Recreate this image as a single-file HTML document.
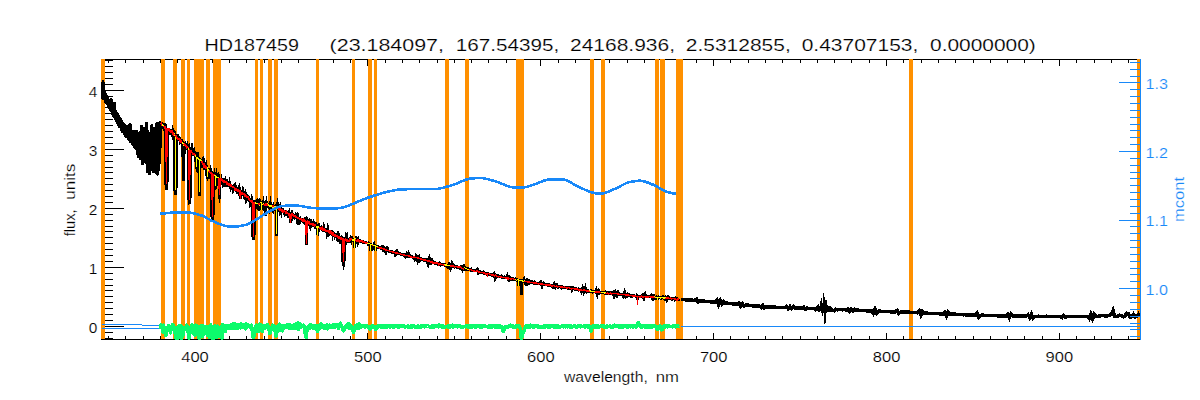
<!DOCTYPE html>
<html><head><meta charset="utf-8"><title>HD187459</title>
<style>html,body{margin:0;padding:0;background:#fff;}svg{display:block;}text{font-family:"Liberation Sans",sans-serif;}</style>
</head><body>
<svg width="1200" height="400" viewBox="0 0 1200 400">
<rect width="1200" height="400" fill="#fff"/>
<defs><clipPath id="pc"><rect x="101" y="59" width="1040" height="281"/></clipPath></defs>
<g shape-rendering="crispEdges">
<g fill="#000">
<rect x="101" y="59" width="1039" height="1"/>
<rect x="102" y="339" width="1038" height="1"/>
<rect x="101" y="59" width="1" height="281"/>
<rect x="108" y="59" width="1" height="4"/>
<rect x="108" y="336" width="1" height="4"/>
<rect x="125" y="59" width="1" height="4"/>
<rect x="125" y="336" width="1" height="4"/>
<rect x="143" y="59" width="1" height="4"/>
<rect x="143" y="336" width="1" height="4"/>
<rect x="160" y="59" width="1" height="4"/>
<rect x="160" y="336" width="1" height="4"/>
<rect x="177" y="59" width="1" height="4"/>
<rect x="177" y="336" width="1" height="4"/>
<rect x="195" y="59" width="1" height="7"/>
<rect x="195" y="333" width="1" height="7"/>
<rect x="212" y="59" width="1" height="4"/>
<rect x="212" y="336" width="1" height="4"/>
<rect x="229" y="59" width="1" height="4"/>
<rect x="229" y="336" width="1" height="4"/>
<rect x="246" y="59" width="1" height="4"/>
<rect x="246" y="336" width="1" height="4"/>
<rect x="264" y="59" width="1" height="4"/>
<rect x="264" y="336" width="1" height="4"/>
<rect x="281" y="59" width="1" height="4"/>
<rect x="281" y="336" width="1" height="4"/>
<rect x="298" y="59" width="1" height="4"/>
<rect x="298" y="336" width="1" height="4"/>
<rect x="316" y="59" width="1" height="4"/>
<rect x="316" y="336" width="1" height="4"/>
<rect x="333" y="59" width="1" height="4"/>
<rect x="333" y="336" width="1" height="4"/>
<rect x="350" y="59" width="1" height="4"/>
<rect x="350" y="336" width="1" height="4"/>
<rect x="367" y="59" width="1" height="7"/>
<rect x="367" y="333" width="1" height="7"/>
<rect x="385" y="59" width="1" height="4"/>
<rect x="385" y="336" width="1" height="4"/>
<rect x="402" y="59" width="1" height="4"/>
<rect x="402" y="336" width="1" height="4"/>
<rect x="419" y="59" width="1" height="4"/>
<rect x="419" y="336" width="1" height="4"/>
<rect x="437" y="59" width="1" height="4"/>
<rect x="437" y="336" width="1" height="4"/>
<rect x="454" y="59" width="1" height="4"/>
<rect x="454" y="336" width="1" height="4"/>
<rect x="471" y="59" width="1" height="4"/>
<rect x="471" y="336" width="1" height="4"/>
<rect x="488" y="59" width="1" height="4"/>
<rect x="488" y="336" width="1" height="4"/>
<rect x="506" y="59" width="1" height="4"/>
<rect x="506" y="336" width="1" height="4"/>
<rect x="523" y="59" width="1" height="4"/>
<rect x="523" y="336" width="1" height="4"/>
<rect x="540" y="59" width="1" height="7"/>
<rect x="540" y="333" width="1" height="7"/>
<rect x="558" y="59" width="1" height="4"/>
<rect x="558" y="336" width="1" height="4"/>
<rect x="575" y="59" width="1" height="4"/>
<rect x="575" y="336" width="1" height="4"/>
<rect x="592" y="59" width="1" height="4"/>
<rect x="592" y="336" width="1" height="4"/>
<rect x="609" y="59" width="1" height="4"/>
<rect x="609" y="336" width="1" height="4"/>
<rect x="627" y="59" width="1" height="4"/>
<rect x="627" y="336" width="1" height="4"/>
<rect x="644" y="59" width="1" height="4"/>
<rect x="644" y="336" width="1" height="4"/>
<rect x="661" y="59" width="1" height="4"/>
<rect x="661" y="336" width="1" height="4"/>
<rect x="679" y="59" width="1" height="4"/>
<rect x="679" y="336" width="1" height="4"/>
<rect x="696" y="59" width="1" height="4"/>
<rect x="696" y="336" width="1" height="4"/>
<rect x="713" y="59" width="1" height="7"/>
<rect x="713" y="333" width="1" height="7"/>
<rect x="730" y="59" width="1" height="4"/>
<rect x="730" y="336" width="1" height="4"/>
<rect x="748" y="59" width="1" height="4"/>
<rect x="748" y="336" width="1" height="4"/>
<rect x="765" y="59" width="1" height="4"/>
<rect x="765" y="336" width="1" height="4"/>
<rect x="782" y="59" width="1" height="4"/>
<rect x="782" y="336" width="1" height="4"/>
<rect x="800" y="59" width="1" height="4"/>
<rect x="800" y="336" width="1" height="4"/>
<rect x="817" y="59" width="1" height="4"/>
<rect x="817" y="336" width="1" height="4"/>
<rect x="834" y="59" width="1" height="4"/>
<rect x="834" y="336" width="1" height="4"/>
<rect x="851" y="59" width="1" height="4"/>
<rect x="851" y="336" width="1" height="4"/>
<rect x="869" y="59" width="1" height="4"/>
<rect x="869" y="336" width="1" height="4"/>
<rect x="886" y="59" width="1" height="7"/>
<rect x="886" y="333" width="1" height="7"/>
<rect x="903" y="59" width="1" height="4"/>
<rect x="903" y="336" width="1" height="4"/>
<rect x="921" y="59" width="1" height="4"/>
<rect x="921" y="336" width="1" height="4"/>
<rect x="938" y="59" width="1" height="4"/>
<rect x="938" y="336" width="1" height="4"/>
<rect x="955" y="59" width="1" height="4"/>
<rect x="955" y="336" width="1" height="4"/>
<rect x="973" y="59" width="1" height="4"/>
<rect x="973" y="336" width="1" height="4"/>
<rect x="990" y="59" width="1" height="4"/>
<rect x="990" y="336" width="1" height="4"/>
<rect x="1007" y="59" width="1" height="4"/>
<rect x="1007" y="336" width="1" height="4"/>
<rect x="1024" y="59" width="1" height="4"/>
<rect x="1024" y="336" width="1" height="4"/>
<rect x="1042" y="59" width="1" height="4"/>
<rect x="1042" y="336" width="1" height="4"/>
<rect x="1059" y="59" width="1" height="7"/>
<rect x="1059" y="333" width="1" height="7"/>
<rect x="1076" y="59" width="1" height="4"/>
<rect x="1076" y="336" width="1" height="4"/>
<rect x="1094" y="59" width="1" height="4"/>
<rect x="1094" y="336" width="1" height="4"/>
<rect x="1111" y="59" width="1" height="4"/>
<rect x="1111" y="336" width="1" height="4"/>
<rect x="1128" y="59" width="1" height="4"/>
<rect x="1128" y="336" width="1" height="4"/>
<rect x="101" y="338" width="12" height="1"/>
<rect x="101" y="332" width="12" height="1"/>
<rect x="101" y="326" width="23" height="1"/>
<rect x="101" y="320" width="12" height="1"/>
<rect x="101" y="314" width="12" height="1"/>
<rect x="101" y="308" width="12" height="1"/>
<rect x="101" y="302" width="12" height="1"/>
<rect x="101" y="296" width="12" height="1"/>
<rect x="101" y="290" width="12" height="1"/>
<rect x="101" y="285" width="12" height="1"/>
<rect x="101" y="279" width="12" height="1"/>
<rect x="101" y="273" width="12" height="1"/>
<rect x="101" y="267" width="23" height="1"/>
<rect x="101" y="261" width="12" height="1"/>
<rect x="101" y="255" width="12" height="1"/>
<rect x="101" y="249" width="12" height="1"/>
<rect x="101" y="243" width="12" height="1"/>
<rect x="101" y="237" width="12" height="1"/>
<rect x="101" y="231" width="12" height="1"/>
<rect x="101" y="226" width="12" height="1"/>
<rect x="101" y="220" width="12" height="1"/>
<rect x="101" y="214" width="12" height="1"/>
<rect x="101" y="208" width="23" height="1"/>
<rect x="101" y="202" width="12" height="1"/>
<rect x="101" y="196" width="12" height="1"/>
<rect x="101" y="190" width="12" height="1"/>
<rect x="101" y="184" width="12" height="1"/>
<rect x="101" y="178" width="12" height="1"/>
<rect x="101" y="172" width="12" height="1"/>
<rect x="101" y="167" width="12" height="1"/>
<rect x="101" y="161" width="12" height="1"/>
<rect x="101" y="155" width="12" height="1"/>
<rect x="101" y="149" width="23" height="1"/>
<rect x="101" y="143" width="12" height="1"/>
<rect x="101" y="137" width="12" height="1"/>
<rect x="101" y="131" width="12" height="1"/>
<rect x="101" y="125" width="12" height="1"/>
<rect x="101" y="119" width="12" height="1"/>
<rect x="101" y="113" width="12" height="1"/>
<rect x="101" y="107" width="12" height="1"/>
<rect x="101" y="102" width="12" height="1"/>
<rect x="101" y="96" width="12" height="1"/>
<rect x="101" y="90" width="23" height="1"/>
<rect x="101" y="84" width="12" height="1"/>
<rect x="101" y="78" width="12" height="1"/>
<rect x="101" y="72" width="12" height="1"/>
<rect x="101" y="66" width="12" height="1"/>
<rect x="101" y="60" width="12" height="1"/>
</g>
<g fill="#ff9000">
<rect x="101" y="59" width="4" height="280"/>
<rect x="161" y="59" width="4" height="280"/>
<rect x="173" y="59" width="4" height="280"/>
<rect x="181" y="59" width="4" height="280"/>
<rect x="187" y="59" width="3" height="280"/>
<rect x="194" y="59" width="10" height="280"/>
<rect x="206" y="59" width="4" height="280"/>
<rect x="213" y="59" width="8" height="280"/>
<rect x="255" y="59" width="3" height="280"/>
<rect x="260" y="59" width="3" height="280"/>
<rect x="268" y="59" width="4" height="280"/>
<rect x="274" y="59" width="4" height="280"/>
<rect x="316" y="59" width="3" height="280"/>
<rect x="352" y="59" width="3" height="280"/>
<rect x="368" y="59" width="4" height="280"/>
<rect x="374" y="59" width="3" height="280"/>
<rect x="445" y="59" width="4" height="280"/>
<rect x="465" y="59" width="4" height="280"/>
<rect x="516" y="59" width="8" height="280"/>
<rect x="590" y="59" width="4" height="280"/>
<rect x="601" y="59" width="4" height="280"/>
<rect x="655" y="59" width="4" height="280"/>
<rect x="660" y="59" width="5" height="280"/>
<rect x="676" y="59" width="7" height="280"/>
<rect x="909" y="59" width="4" height="280"/>
<rect x="1137" y="59" width="3" height="280"/>
</g>
<g fill="#1888f8">
<rect x="102" y="324" width="40" height="1"/>
<rect x="142" y="325" width="19" height="1"/>
<rect x="102" y="328" width="59" height="1"/>
</g>
<g clip-path="url(#pc)">
<path d="M101.00,90.68L101.50,96.21L102.00,87.81L102.50,98.01L103.00,81.71L103.50,97.86L104.00,89.94L104.50,98.82L105.00,92.70L105.50,101.66L106.00,95.71L106.50,103.18L107.00,96.59L107.50,103.42L108.00,98.87L108.50,106.79L109.00,99.95L109.50,107.72L110.00,101.48L110.50,109.38L111.00,99.19L111.50,111.11L112.00,105.77L112.50,113.73L113.00,107.65L113.50,116.25L114.00,109.56L114.50,103.20L115.00,111.54L115.50,119.29L116.00,111.40L116.50,121.01L117.00,113.00L117.50,123.07L118.00,114.50L118.50,124.87L119.00,116.52L119.50,126.63L120.00,118.09L120.50,126.93L121.00,119.59L121.50,129.92L122.00,121.32L122.50,131.94L123.00,122.88L123.50,132.17L124.00,124.14L124.50,133.78L125.00,126.29L125.50,136.27L126.00,126.45L126.50,135.47L127.00,126.34L127.50,136.74L128.00,128.66L128.50,138.97L129.00,130.32L129.50,139.35L130.00,123.92L130.50,141.66L131.00,131.58L131.50,142.28L132.00,132.09L132.50,143.51L133.00,131.70L133.50,144.70L134.00,132.13L134.50,146.35L135.00,131.12L135.50,147.47L136.00,131.36L136.50,148.97L137.00,131.48L137.50,153.49L138.00,135.37L138.50,156.47L139.00,135.27L139.50,153.14L140.00,132.20L140.50,158.82L141.00,131.79L141.50,126.47L142.00,135.34L142.50,163.83L143.00,137.01L143.50,128.56L144.00,133.10L144.50,128.02L145.00,134.23L145.50,162.17L146.00,137.74L146.50,123.17L147.00,128.09L147.50,171.71L148.00,131.69L148.50,167.82L149.00,133.62L149.50,173.99L150.00,136.46L150.50,170.02L151.00,134.63L151.50,168.39L152.00,125.47L152.50,168.61L153.00,128.08L153.50,171.83L154.00,128.37L154.50,171.66L155.00,131.61L155.50,170.62L156.00,134.30L156.50,172.42L157.00,123.07L157.50,174.07L158.00,133.45L158.50,170.28L159.00,130.68L159.50,162.75L160.00,121.86L160.50,147.01L161.00,124.99L161.25,124.81L161.50,123.15" fill="none" stroke="#000" stroke-width="3" stroke-linejoin="round"/>
<path d="M161.00,124.99L161.25,124.81L161.50,123.15L161.75,123.23L162.00,124.88L162.25,126.16L162.50,126.51L162.75,123.91L163.00,126.09L163.25,125.82L163.50,124.24L163.75,126.63L164.00,123.06L164.25,126.67L164.50,129.85L164.75,125.33L165.00,126.93L165.25,124.54L165.50,126.28L165.70,126.73L165.85,183.48L166.50,189.64L167.15,180.41L167.30,130.35L167.50,130.59L167.75,130.27L168.00,128.59L168.25,131.47L168.50,131.46L168.75,127.88L169.00,131.10L169.25,131.53L169.50,131.94L169.75,131.59L170.00,129.32L170.25,130.92L170.50,128.71L170.75,131.51L171.00,134.69L171.25,133.09L171.50,133.52L171.75,131.92L172.00,131.47L172.25,131.62L172.50,133.46L172.75,132.43L173.00,132.88L173.25,135.52L173.50,131.98L173.75,132.66L174.00,133.97L174.25,134.75L174.50,134.95L174.70,134.65L174.85,189.21L175.50,195.12L176.15,186.26L176.30,136.29L176.50,136.10L176.75,136.93L177.00,136.71L177.25,139.53L177.50,133.72L177.75,136.21L178.00,136.10L178.25,138.13L178.50,137.97L178.75,138.56L179.00,140.33L179.25,137.39L179.50,138.69L179.75,139.77L180.00,138.69L180.25,141.05L180.50,141.24L180.75,140.08L181.00,138.88L181.25,143.68L181.50,142.39L181.75,142.57L182.00,142.33L182.25,142.47L182.50,143.84L182.75,142.94L182.95,142.82L183.10,177.11L183.50,180.82L183.90,175.25L184.05,145.36L184.25,145.97L184.50,145.49L184.75,147.54L185.00,144.41L185.25,144.35L185.50,146.14L185.75,147.70L186.00,146.88L186.25,146.90L186.50,149.10L186.75,145.78L187.00,145.34L187.25,146.26L187.50,147.07L187.75,148.24L188.00,149.36L188.25,148.76L188.50,150.51L188.70,149.93L188.85,198.86L189.50,204.35L190.15,196.11L190.30,150.96L190.50,151.13L190.75,151.70L191.00,150.65L191.25,151.10L191.50,151.77L191.75,149.94L192.00,150.97L192.25,150.02L192.50,152.48L192.75,155.73L193.00,154.00L193.25,152.09L193.50,152.56L193.75,155.10L194.00,153.40L194.25,152.13L194.50,153.19L194.75,153.41L195.00,153.72L195.25,156.28L195.50,155.73L195.75,153.89L195.95,154.20L196.10,166.51L196.50,167.60L196.90,165.96L197.05,157.60L197.25,157.10L197.50,158.56L197.75,159.23L198.00,157.81L198.25,159.32L198.50,159.61L198.75,159.45L198.95,160.03L199.10,192.03L199.50,195.59L199.90,190.25L200.05,162.32L200.25,162.16L200.50,160.45L200.75,160.22L201.00,160.41L201.25,161.06L201.50,162.76L201.75,163.66L202.00,159.74L202.25,163.07L202.50,161.89L202.75,164.60L203.00,165.20L203.25,163.21L203.50,163.95L203.75,163.56L204.00,165.67L204.25,163.27L204.50,164.22L204.75,165.11L205.00,167.98L205.25,169.87L205.50,166.95L205.75,165.56L206.00,167.62L206.25,166.64L206.50,168.73L206.75,166.90L206.95,167.16L207.10,176.85L207.50,177.69L207.90,176.43L208.05,170.56L208.25,170.31L208.50,167.97L208.75,171.95L209.00,170.58L209.25,170.34L209.50,173.55L209.75,170.44L210.00,172.13L210.25,171.33L210.50,174.37L210.75,172.29L211.00,173.34L211.25,171.38L211.50,175.42L211.70,174.79L211.85,216.08L212.50,220.72L213.15,213.76L213.30,175.34L213.50,175.31L213.75,175.88L214.00,176.97L214.25,175.81L214.50,174.73L214.75,175.87L214.95,176.35L215.10,185.15L215.50,186.11L215.90,184.67L216.05,175.44L216.25,174.72L216.50,176.64L216.75,177.08L217.00,177.55L217.25,180.72L217.50,179.78L217.75,176.43L218.00,180.88L218.25,176.49L218.50,175.72L218.75,176.36L218.95,176.85L219.10,194.44L219.50,196.18L219.90,193.57L220.05,179.89L220.25,180.18L220.50,178.85L220.75,180.73L221.00,180.43L221.25,178.23L221.50,181.91L221.75,180.39L222.00,181.24L222.25,182.11L222.50,179.24L222.75,180.60L223.00,179.76L223.25,179.75L223.50,181.54L223.75,181.79L224.00,183.29L224.25,183.52L224.50,181.78L224.75,180.84L225.00,186.45L225.25,185.19L225.50,182.31L225.75,181.36L226.00,182.21L226.25,183.32L226.50,184.63L226.75,184.58L227.00,184.02L227.25,183.26L227.50,183.98L227.75,183.50L228.00,184.18L228.25,184.11L228.50,185.12L228.75,182.03L229.00,184.27L229.25,184.51L229.50,183.53L229.75,184.99L230.00,184.49L230.25,184.98L230.50,185.46L230.75,185.65L231.00,185.54L231.25,187.12L231.50,186.52L231.75,186.78L232.00,186.86L232.25,186.25L232.50,186.23L232.75,187.85L233.00,186.99L233.25,185.94L233.50,185.73L233.75,187.95L234.00,187.29L234.25,188.01L234.50,187.76L234.75,188.03L235.00,188.38L235.25,187.62L235.50,188.82L235.75,189.82L236.00,189.73L236.25,187.81L236.50,188.30L236.75,188.46L237.00,189.54L237.25,190.63L237.50,190.33L237.75,188.72L238.00,190.41L238.25,191.20L238.50,190.29L238.75,192.45L239.00,190.43L239.25,192.14L239.50,193.30L239.75,190.38L240.00,191.35L240.38,192.01L240.50,199.14L240.62,191.20L241.00,192.77L241.25,192.70L241.50,192.27L241.75,192.09L242.00,192.53L242.25,192.90L242.50,192.26L242.75,194.87L243.00,192.78L243.25,193.55L243.50,193.54L243.75,193.95L244.00,194.58L244.25,194.07L244.50,194.72L244.75,196.60L245.00,196.24L245.25,195.32L245.50,196.56L245.75,195.36L246.00,196.43L246.25,195.25L246.50,195.72L246.75,196.19L247.00,198.22L247.25,197.60L247.50,198.11L247.75,198.01L248.00,198.43L248.25,198.72L248.50,199.25L248.75,198.97L249.00,198.29L249.25,198.63L249.50,200.57L249.75,200.97L250.00,200.46L250.25,198.81L250.50,201.76L250.75,200.91L251.00,200.78L251.25,201.06L251.50,200.91L251.75,202.91L252.00,203.02L252.25,200.86L252.50,201.76L252.70,201.88L252.85,235.90L253.50,239.61L254.15,234.04L254.30,203.73L254.50,203.97L254.75,203.31L255.00,201.93L255.25,202.14L255.50,202.32L255.75,202.04L256.00,203.29L256.25,202.89L256.50,203.40L256.75,204.00L257.00,204.94L257.25,203.62L257.50,201.86L257.75,204.64L258.00,203.37L258.25,204.46L258.50,203.09L258.75,203.73L259.00,203.36L259.25,203.45L259.50,204.56L259.75,202.92L260.00,203.62L260.25,203.67L260.50,203.15L260.75,201.61L261.00,203.79L261.38,201.85L261.50,210.11L261.62,203.36L262.00,203.92L262.25,204.31L262.50,204.31L262.75,204.14L263.00,203.36L263.25,204.74L263.50,203.51L263.75,204.73L264.00,201.92L264.25,203.06L264.50,203.43L264.75,203.97L265.00,201.99L265.38,204.00L265.50,215.93L265.62,204.58L266.00,203.83L266.25,205.58L266.50,203.94L266.75,205.25L267.00,204.50L267.25,204.61L267.50,204.57L267.75,204.76L268.00,205.81L268.25,206.17L268.50,206.24L268.75,205.88L269.00,205.76L269.25,205.67L269.50,206.87L269.75,205.08L270.00,205.01L270.25,205.68L270.50,204.31L270.75,205.62L271.00,205.86L271.25,205.13L271.50,205.61L271.75,206.78L272.00,206.09L272.25,206.45L272.50,207.36L272.75,206.06L273.00,205.70L273.25,206.74L273.50,207.24L273.75,205.43L274.00,207.64L274.25,206.91L274.50,206.93L274.75,206.65L275.00,207.33L275.25,208.41L275.50,208.15L275.75,208.50L276.00,207.60L276.38,208.88L276.50,235.98L276.62,207.63L277.00,206.11L277.25,208.50L277.50,210.90L277.75,208.62L278.00,207.91L278.25,210.34L278.50,208.47L278.75,209.52L279.00,209.86L279.25,208.07L279.50,209.54L279.75,210.56L280.00,209.37L280.25,210.32L280.50,209.86L280.75,210.86L281.00,211.67L281.25,209.27L281.50,210.08L281.75,210.77L282.00,210.01L282.25,209.95L282.50,210.47L282.75,210.65L283.00,210.44L283.25,211.39L283.50,211.91L283.75,211.97L284.00,212.03L284.25,212.57L284.50,210.51L284.75,211.69L285.00,212.06L285.25,212.46L285.50,210.76L285.75,213.84L286.00,211.60L286.25,212.70L286.50,213.21L286.75,213.63L287.00,212.23L287.25,212.47L287.50,213.36L287.75,213.66L288.00,214.05L288.25,213.34L288.50,212.92L288.75,212.49L289.00,215.22L289.25,212.68L289.50,214.56L289.75,214.32L290.00,214.85L290.38,215.05L290.50,222.82L290.62,214.64L291.00,215.00L291.25,213.12L291.50,214.93L291.75,214.24L292.00,215.00L292.25,216.29L292.50,215.45L292.75,216.40L293.00,215.42L293.25,216.05L293.50,215.47L293.75,213.77L294.00,215.45L294.25,215.94L294.50,216.42L294.75,216.40L295.00,216.41L295.25,217.44L295.50,217.28L295.75,216.53L296.00,217.72L296.25,215.41L296.50,216.97L296.75,217.20L297.00,218.55L297.25,217.10L297.50,216.42L297.75,217.94L298.00,219.34L298.25,217.84L298.50,218.05L298.75,218.07L299.00,218.41L299.25,219.59L299.50,220.26L299.75,219.11L300.00,218.77L300.25,219.86L300.50,219.09L300.75,219.19L301.00,219.09L301.25,219.23L301.50,219.62L301.75,219.47L302.00,219.93L302.25,219.88L302.50,220.23L302.75,219.87L303.00,220.08L303.25,220.41L303.50,220.43L303.75,220.56L304.00,221.21L304.25,220.20L304.50,219.88L304.75,221.32L305.00,220.95L305.25,221.85L305.50,221.25L305.75,220.81L306.00,222.60L306.38,222.04L306.50,245.24L306.62,221.68L307.00,222.23L307.25,221.72L307.50,222.37L307.75,222.86L308.00,221.70L308.25,222.33L308.50,222.86L308.75,223.56L309.00,223.31L309.25,222.73L309.50,223.80L309.75,223.00L310.00,223.21L310.25,223.60L310.50,222.98L310.75,225.17L311.00,224.35L311.25,223.97L311.50,223.69L311.75,223.51L312.00,224.39L312.25,224.67L312.50,224.24L312.75,224.46L313.00,224.95L313.25,224.75L313.50,223.97L313.75,225.35L314.00,225.25L314.25,225.61L314.50,224.98L314.75,224.41L315.00,224.97L315.25,225.85L315.50,226.86L315.75,227.11L316.00,226.20L316.25,225.44L316.50,226.12L316.75,226.62L317.00,226.73L317.38,226.69L317.50,235.27L317.62,226.27L318.00,225.89L318.25,226.65L318.50,226.63L318.75,228.44L319.00,227.34L319.25,226.84L319.50,227.98L319.75,228.29L320.00,227.92L320.25,228.11L320.50,228.64L320.75,228.50L321.00,228.01L321.25,228.76L321.50,229.05L321.75,228.87L322.00,229.25L322.25,229.22L322.50,228.92L322.75,229.08L323.00,229.57L323.25,229.10L323.50,230.07L323.75,230.21L324.00,228.70L324.25,229.79L324.50,229.56L324.75,229.73L325.00,230.24L325.25,230.19L325.50,230.67L325.75,230.66L326.00,230.80L326.25,230.33L326.50,230.66L326.75,231.68L327.00,229.82L327.25,232.03L327.50,231.00L327.75,231.99L328.00,230.21L328.25,231.41L328.50,232.16L328.75,231.93L329.00,232.48L329.25,231.65L329.50,231.92L329.75,231.99L330.00,232.69L330.25,232.79L330.50,232.61L330.75,232.66L331.00,232.77L331.25,233.09L331.50,232.69L331.75,233.27L332.00,233.35L332.25,233.28L332.50,233.40L332.75,234.56L333.00,233.65L333.25,234.30L333.50,234.91L333.75,234.74L334.00,234.52L334.25,235.16L334.50,234.09L334.75,234.34L335.00,234.90L335.25,235.14L335.50,235.36L335.75,236.50L336.00,236.56L336.25,235.86L336.50,236.16L336.75,235.74L337.00,236.51L337.25,235.84L337.50,237.37L337.75,236.58L338.00,237.27L338.25,236.50L338.50,238.01L338.75,237.77L339.00,238.60L339.25,237.81L339.50,237.11L339.75,237.68L340.00,237.59L340.25,239.14L340.50,238.18L340.75,238.25L341.00,239.05L341.25,239.01L341.50,239.24L341.75,238.85L342.00,238.21L342.25,238.63L342.50,238.31L342.70,238.67L342.85,261.43L343.50,263.84L344.15,260.22L344.30,240.35L344.50,240.39L344.75,240.04L345.00,238.92L345.25,238.68L345.50,240.72L345.75,240.41L346.00,238.87L346.25,240.22L346.50,239.70L346.75,239.87L347.00,238.85L347.25,240.53L347.50,240.10L347.75,240.54L348.00,240.67L348.25,240.76L348.50,240.93L348.75,240.24L349.00,240.19L349.25,239.75L349.50,240.32L349.75,239.92L350.00,239.44L350.25,240.62L350.50,240.37L350.75,238.66L351.00,239.06L351.25,239.88L351.50,239.32L351.75,240.61L352.00,240.09L352.25,240.28L352.50,240.48L352.75,240.69L353.00,239.89L353.25,240.35L353.50,240.18L353.75,240.48L354.00,240.38L354.38,240.71L354.50,248.45L354.62,240.03L355.00,240.26L355.25,239.67L355.50,240.43L355.75,241.07L356.00,240.04L356.25,239.55L356.50,240.39L356.75,240.22L357.00,240.52L357.25,240.27L357.50,240.65L357.75,240.15L358.00,241.49L358.25,240.65L358.50,241.08L358.75,241.26L359.00,240.85L359.25,241.21L359.50,240.92L359.75,240.88L360.00,241.13L360.25,241.27L360.50,241.12L360.75,241.23L361.00,241.31L361.25,241.40L361.50,241.67L361.75,241.59L362.00,241.62L362.25,241.74L362.50,241.92L362.75,241.77L363.00,242.05L363.25,241.72L363.50,241.96L363.75,242.32L364.00,242.40L364.25,242.31L364.50,242.31L364.75,242.53L365.00,242.46L365.25,242.77L365.50,242.80L365.75,242.83L366.00,242.71L366.25,243.01L366.50,242.94L366.75,243.02L367.00,243.08L367.25,243.19L367.50,243.35L367.75,243.47L368.00,243.56L368.25,243.95L368.50,243.58L368.75,243.85L369.00,243.71L369.25,243.86L369.50,243.82L369.75,244.20L370.00,244.17L370.38,244.22L370.50,251.33L370.62,244.49L371.00,244.43L371.25,244.63L371.50,244.98L371.75,245.09L372.00,245.70L372.25,246.32L372.50,247.21L372.75,247.79L373.00,247.18L373.25,246.35L373.50,245.64L373.75,244.70L374.00,244.26L374.25,245.03L374.50,246.08L374.75,247.14L375.00,247.98L375.38,248.53L375.50,251.29L375.62,247.68L376.00,247.19L376.25,247.01L376.50,246.58L376.75,246.78L377.00,246.86L377.25,246.78L377.50,247.20L377.75,247.02L378.00,246.87L378.25,246.91L378.50,247.28L378.75,247.48L379.00,247.48L379.25,247.77L379.50,247.62L379.75,247.82L380.00,247.93L380.25,247.82L380.50,248.07L380.75,248.17L381.00,248.35L381.25,248.36L381.50,247.92L381.75,247.30L382.00,247.06L382.25,246.69L382.50,246.70L382.75,247.72L383.00,248.67L383.25,249.66L383.50,250.46L383.75,250.57L384.00,250.00L384.25,249.45L384.50,248.83L384.75,248.33L385.00,248.66L385.25,249.43L385.50,250.19L385.75,250.84L386.00,251.51L386.25,250.71L386.50,250.20L386.75,249.29L387.00,248.74L387.25,248.25L387.50,248.67L387.75,249.24L388.00,249.97L388.25,250.45L388.50,250.84L388.75,251.25L389.00,251.03L389.25,251.05L389.50,251.20L389.75,251.11L390.00,251.24L390.25,251.38L390.50,251.31L390.75,251.47L391.00,251.53L391.25,251.63L391.50,251.48L391.75,251.97L392.00,251.82L392.25,251.96L392.50,251.84L392.75,251.88L393.00,252.11L393.25,252.13L393.50,252.32L393.75,252.20L394.00,252.26L394.25,252.48L394.50,252.82L394.75,253.48L395.00,254.00L395.25,254.67L395.50,255.18L395.75,255.03L396.00,253.93L396.25,252.84L396.50,251.42L396.75,250.63L397.00,250.74L397.25,251.53L397.50,252.17L397.75,252.91L398.00,253.38L398.25,253.43L398.50,253.41L398.75,253.45L399.00,253.72L399.25,253.60L399.50,253.85L399.75,253.79L400.00,253.83L400.25,254.07L400.50,254.12L400.75,253.96L401.00,254.12L401.25,254.20L401.50,254.34L401.75,254.23L402.00,254.33L402.25,254.42L402.50,254.58L402.75,254.66L403.00,254.55L403.25,254.89L403.50,254.79L403.75,254.70L404.00,254.67L404.25,255.15L404.50,255.28L404.75,255.94L405.00,256.34L405.25,256.60L405.50,255.94L405.75,255.12L406.00,254.72L406.25,254.28L406.50,253.87L406.75,254.71L407.00,255.56L407.25,256.17L407.50,256.59L407.75,256.61L408.00,255.96L408.25,255.49L408.50,254.47L408.75,253.69L409.00,254.12L409.25,254.68L409.50,255.25L409.75,255.90L410.00,256.27L410.25,256.17L410.50,256.40L410.75,256.46L411.00,256.63L411.25,256.68L411.50,256.55L411.75,256.79L412.00,256.88L412.25,256.80L412.50,256.99L412.75,256.96L413.00,257.03L413.25,257.05L413.50,257.22L413.75,257.81L414.00,258.02L414.25,258.38L414.50,259.01L414.75,259.49L415.00,259.10L415.25,258.29L415.50,257.85L415.75,256.88L416.00,256.26L416.25,256.76L416.50,257.64L416.75,258.72L417.00,259.09L417.25,259.78L417.50,258.68L417.75,258.16L418.00,256.91L418.25,256.14L418.50,256.09L418.75,257.09L419.00,258.76L419.25,259.62L419.50,261.02L419.75,260.93L420.00,260.37L420.25,260.10L420.50,259.63L420.75,259.49L421.00,258.97L421.25,258.98L421.50,259.15L421.75,259.34L422.00,259.44L422.25,259.35L422.50,259.47L422.75,259.65L423.00,259.78L423.25,259.65L423.50,259.80L423.75,259.52L424.00,259.81L424.25,260.04L424.50,260.06L424.75,260.11L425.00,260.39L425.25,260.23L425.50,260.21L425.75,260.22L426.00,259.95L426.25,259.51L426.50,259.49L426.75,259.29L427.00,259.71L427.25,260.60L427.50,261.62L427.75,262.71L428.00,263.42L428.25,262.37L428.50,261.37L428.75,260.44L429.00,259.41L429.25,258.76L429.50,260.00L429.75,261.19L430.00,261.92L430.25,263.19L430.50,263.40L430.75,262.90L431.00,261.61L431.25,260.84L431.50,260.06L431.75,259.87L432.00,260.55L432.25,261.20L432.50,261.48L432.75,262.21L433.00,262.56L433.25,262.34L433.50,262.37L433.75,262.24L434.00,262.59L434.25,262.47L434.50,262.80L434.75,262.99L435.00,262.92L435.25,262.82L435.50,263.05L435.75,262.98L436.00,262.96L436.25,263.10L436.50,263.24L436.75,263.23L437.00,263.40L437.25,263.65L437.50,263.52L437.75,263.60L438.00,263.48L438.38,263.70L438.50,265.69L438.62,263.81L439.00,263.69L439.25,263.87L439.50,263.61L439.75,263.91L440.00,263.90L440.25,263.94L440.50,264.32L440.75,263.98L441.00,264.19L441.25,264.25L441.50,264.38L441.75,264.49L442.00,264.22L442.25,264.40L442.50,264.43L442.75,264.65L443.00,264.72L443.25,264.61L443.50,264.64L443.75,264.63L444.00,264.84L444.25,265.05L444.50,264.94L444.75,264.86L445.00,264.89L445.25,264.95L445.50,264.88L445.75,265.33L446.00,265.18L446.25,265.17L446.50,265.52L446.75,265.33L447.00,265.52L447.25,265.53L447.50,266.21L447.75,266.67L448.00,267.21L448.25,267.88L448.50,267.91L448.75,267.07L449.00,266.07L449.25,265.13L449.50,264.22L449.75,264.43L450.00,265.14L450.25,265.96L450.50,266.86L450.75,267.67L451.00,267.14L451.25,266.15L451.50,265.23L451.75,264.60L452.00,263.74L452.25,264.23L452.50,264.86L452.75,265.49L453.00,265.92L453.25,266.45L453.50,266.32L453.75,266.45L454.00,266.42L454.25,266.39L454.50,266.66L454.75,266.30L455.00,266.68L455.25,266.82L455.50,266.82L455.75,266.63L456.00,266.88L456.25,266.68L456.50,266.83L456.75,267.15L457.00,267.04L457.25,267.21L457.50,266.98L457.75,266.90L458.00,267.10L458.25,267.39L458.50,267.39L458.75,267.45L459.00,267.35L459.25,267.40L459.50,267.43L459.75,267.85L460.00,267.56L460.25,267.80L460.50,267.48L460.75,267.37L461.00,266.79L461.25,266.56L461.50,266.38L461.75,266.57L462.00,267.30L462.25,268.03L462.50,268.69L462.75,269.65L463.00,269.25L463.25,268.33L463.50,268.08L463.75,267.26L464.00,266.64L464.25,267.21L464.50,267.92L464.75,268.48L465.00,268.92L465.25,269.43L465.50,269.13L465.75,269.37L466.00,268.91L466.25,268.77L466.50,268.73L466.75,268.89L467.00,269.02L467.25,268.94L467.50,269.04L467.75,269.05L468.00,269.31L468.25,269.23L468.50,269.06L468.75,269.50L469.00,269.42L469.38,269.60L469.50,271.32L469.62,269.52L470.00,269.59L470.25,269.50L470.50,269.68L470.75,269.94L471.00,269.93L471.25,269.62L471.50,270.12L471.75,270.07L472.00,270.19L472.25,270.16L472.50,270.23L472.75,270.28L473.00,270.34L473.25,270.27L473.50,270.58L473.75,270.55L474.00,270.63L474.25,270.69L474.50,270.67L474.75,270.76L475.00,270.67L475.25,270.93L475.50,270.99L475.75,270.99L476.00,270.88L476.25,270.78L476.50,270.14L476.75,269.69L477.00,269.19L477.25,268.97L477.50,269.92L477.75,270.77L478.00,271.76L478.25,273.00L478.50,273.34L478.75,273.17L479.00,272.58L479.25,272.15L479.50,271.94L479.75,271.72L480.00,272.23L480.25,272.31L480.50,272.24L480.75,272.33L481.00,272.40L481.25,272.40L481.50,272.57L481.75,272.42L482.00,272.55L482.25,272.65L482.50,272.52L482.75,272.67L483.00,272.91L483.25,272.96L483.50,272.68L483.75,273.15L484.00,273.14L484.25,273.25L484.50,273.22L484.75,273.35L485.00,273.19L485.25,273.38L485.50,273.34L485.75,273.46L486.00,273.73L486.25,273.84L486.50,273.71L486.75,273.71L487.00,273.92L487.38,273.93L487.50,276.18L487.62,273.99L488.00,273.77L488.25,274.12L488.50,274.13L488.75,274.13L489.00,274.30L489.25,274.35L489.50,274.35L489.75,274.63L490.00,274.55L490.25,274.61L490.50,274.63L490.75,274.81L491.00,274.59L491.25,274.92L491.50,274.80L491.75,275.06L492.00,275.11L492.25,275.05L492.50,274.99L492.75,275.14L493.00,274.84L493.25,274.23L493.50,273.97L493.75,273.54L494.00,273.39L494.25,274.53L494.50,275.33L494.75,276.46L495.00,277.46L495.25,278.42L495.50,277.94L495.75,277.51L496.00,276.60L496.25,276.32L496.50,275.89L496.75,275.87L497.00,275.97L497.25,275.97L497.50,276.17L497.75,276.17L498.00,276.36L498.25,276.21L498.50,276.10L498.75,276.26L499.00,276.47L499.25,276.31L499.50,276.45L499.75,276.65L500.00,276.48L500.25,276.79L500.50,276.78L500.75,276.72L501.00,276.84L501.25,276.84L501.50,276.90L501.75,276.96L502.00,277.05L502.38,277.08L502.50,279.26L502.62,277.20L503.00,277.50L503.25,277.18L503.50,277.34L503.75,277.55L504.00,277.58L504.25,277.42L504.50,277.80L504.75,277.82L505.00,277.62L505.25,277.56L505.50,277.84L505.75,277.79L506.00,277.83L506.25,277.36L506.50,276.98L506.75,276.67L507.00,276.35L507.25,275.86L507.50,276.76L507.75,278.09L508.00,278.80L508.25,279.91L508.50,280.07L508.75,279.37L509.00,278.50L509.25,277.52L509.50,276.71L509.75,276.88L510.00,277.68L510.25,278.27L510.50,278.91L510.75,279.86L511.00,279.83L511.25,279.61L511.50,279.31L511.75,279.31L512.00,278.83L512.25,279.02L512.50,279.28L512.75,279.04L513.00,279.27L513.25,279.32L513.50,279.37L513.75,279.16L514.00,279.53L514.25,279.48L514.50,279.56L514.75,279.59L515.00,279.61L515.25,279.79L515.50,279.86L515.75,279.51L516.00,279.69L516.25,279.81L516.50,279.61L516.75,280.10L517.00,279.87L517.25,280.08L517.50,280.08L517.75,280.08L518.00,280.03L518.38,280.11L518.50,286.16L518.62,280.36L519.00,280.30L519.25,280.32L519.50,280.39L519.75,280.62L520.00,280.54L520.25,280.47L520.50,280.44L520.75,280.59L521.00,280.57L521.38,280.64L521.50,295.41L521.62,280.89L522.00,280.88L522.25,280.95L522.50,281.15L522.75,280.85L523.00,280.79L523.25,280.39L523.50,280.10L523.75,279.77L524.00,279.40L524.25,280.36L524.50,280.88L524.75,282.03L525.00,282.93L525.25,283.25L525.50,282.45L525.75,282.00L526.00,280.87L526.25,280.14L526.50,279.94L526.75,280.77L527.00,281.57L527.25,282.20L527.50,283.55L527.75,283.12L528.00,282.61L528.25,281.92L528.50,281.45L528.75,280.73L529.00,280.93L529.25,281.29L529.50,281.60L529.75,281.85L530.00,282.30L530.25,282.04L530.50,282.38L530.75,282.40L531.00,282.39L531.25,282.23L531.50,282.59L531.75,282.39L532.00,282.59L532.25,282.33L532.50,282.57L532.75,282.55L533.00,282.58L533.25,282.63L533.50,282.96L533.75,282.79L534.00,282.87L534.25,283.12L534.50,282.74L534.75,283.13L535.00,282.94L535.25,282.95L535.50,283.02L535.75,282.89L536.00,282.96L536.25,283.05L536.50,283.15L536.75,283.34L537.00,283.43L537.25,283.29L537.50,283.42L537.75,283.47L538.00,283.42L538.25,283.52L538.50,283.46L538.75,283.63L539.00,283.58L539.25,283.65L539.50,283.71L539.75,283.52L540.00,283.10L540.25,282.70L540.50,282.53L540.75,282.15L541.00,282.69L541.25,283.51L541.50,284.20L541.75,285.09L542.00,285.85L542.25,285.12L542.50,284.70L542.75,283.97L543.00,283.60L543.25,283.19L543.50,283.40L543.75,283.79L544.00,284.09L544.25,284.31L544.50,284.22L544.75,284.49L545.00,284.54L545.25,284.65L545.50,284.47L545.75,284.71L546.00,284.70L546.25,284.75L546.50,284.59L546.75,284.67L547.00,284.95L547.25,284.95L547.50,284.88L547.75,285.05L548.00,284.99L548.25,284.95L548.50,284.85L548.75,285.19L549.00,285.09L549.25,285.17L549.50,284.97L549.75,285.16L550.00,285.29L550.25,285.27L550.50,285.24L550.75,285.24L551.00,285.43L551.25,285.40L551.50,285.44L551.75,285.63L552.00,285.87L552.25,286.20L552.50,286.45L552.75,286.81L553.00,286.27L553.25,285.77L553.50,285.38L553.75,284.82L554.00,284.33L554.25,285.20L554.50,285.70L554.75,286.39L555.00,286.96L555.25,287.30L555.50,286.64L555.75,285.93L556.00,285.41L556.25,284.72L556.50,284.75L556.75,285.29L557.00,285.95L557.25,286.65L557.50,287.19L557.75,287.47L558.00,287.28L558.25,287.10L558.50,286.90L558.75,286.63L559.00,286.53L559.25,286.69L559.50,286.64L559.75,286.68L560.00,286.79L560.25,286.65L560.50,286.63L560.75,286.90L561.00,287.11L561.25,287.07L561.50,287.42L561.75,286.84L562.00,286.97L562.25,286.81L562.50,287.02L562.75,287.38L563.00,287.39L563.25,287.11L563.50,287.23L563.75,287.21L564.00,287.19L564.25,287.36L564.50,287.38L564.75,287.47L565.00,287.53L565.25,287.62L565.50,287.74L565.75,287.61L566.00,287.63L566.25,287.69L566.50,287.78L566.75,287.75L567.00,287.69L567.25,287.79L567.50,287.97L567.75,287.80L568.00,288.06L568.25,287.84L568.50,288.12L568.75,288.15L569.00,288.10L569.25,288.16L569.50,288.18L569.75,288.27L570.00,287.76L570.25,287.47L570.50,287.35L570.75,287.19L571.00,287.55L571.25,288.14L571.50,288.92L571.75,289.34L572.00,289.98L572.25,289.41L572.50,289.18L572.75,288.25L573.00,287.84L573.25,287.67L573.50,287.98L573.75,288.43L574.00,288.57L574.25,288.75L574.50,289.17L574.75,289.17L575.00,289.22L575.25,289.25L575.50,289.22L575.75,289.03L576.00,289.12L576.25,289.52L576.50,289.33L576.75,289.14L577.00,289.41L577.25,289.56L577.50,289.53L577.75,289.52L578.00,289.28L578.25,289.61L578.50,289.62L578.75,289.87L579.00,289.72L579.25,289.75L579.50,289.74L579.75,289.82L580.00,289.90L580.25,289.85L580.50,289.99L580.75,290.36L581.00,290.92L581.25,291.28L581.50,291.69L581.75,291.21L582.00,290.45L582.25,289.49L582.50,288.98L582.75,288.17L583.00,288.66L583.25,289.54L583.50,290.55L583.75,291.26L584.00,292.21L584.25,291.73L584.50,290.69L584.75,290.02L585.00,289.17L585.25,288.49L585.50,289.47L585.75,290.43L586.00,291.26L586.25,291.58L586.50,292.05L586.75,291.87L587.00,291.77L587.25,291.50L587.50,291.26L587.75,291.17L588.00,290.95L588.25,290.92L588.50,291.18L588.75,291.07L589.00,291.13L589.38,291.12L589.50,293.07L589.62,291.27L590.00,291.13L590.25,291.07L590.50,291.22L590.75,291.35L591.00,291.33L591.25,291.38L591.50,291.19L591.75,291.35L592.00,291.61L592.25,291.49L592.50,291.46L592.75,291.70L593.00,291.53L593.25,291.71L593.50,291.68L593.75,291.73L594.00,291.83L594.25,292.00L594.50,291.91L594.75,291.69L595.00,291.38L595.25,291.11L595.50,290.77L595.75,290.52L596.00,290.08L596.25,290.99L596.50,291.65L596.75,292.74L597.00,293.70L597.25,294.38L597.50,293.43L597.75,292.50L598.00,291.51L598.25,290.81L598.50,290.47L598.75,290.87L599.00,291.32L599.25,291.78L599.50,292.19L599.75,292.58L600.00,292.23L600.25,292.18L600.50,292.44L600.75,292.27L601.00,292.42L601.25,292.46L601.50,292.40L601.75,292.61L602.00,292.62L602.25,292.59L602.50,292.67L602.75,292.72L603.00,292.61L603.25,292.74L603.50,292.71L603.75,292.72L604.00,292.69L604.25,292.97L604.50,292.83L604.75,292.64L605.00,292.90L605.25,292.56L605.50,292.92L605.75,293.00L606.00,293.10L606.25,292.98L606.50,292.90L606.75,293.24L607.00,293.15L607.25,293.21L607.50,293.04L607.75,293.17L608.00,292.91L608.25,293.20L608.50,292.92L608.75,293.07L609.00,293.04L609.25,293.37L609.50,293.37L609.75,293.21L610.00,293.45L610.25,293.34L610.50,293.11L610.75,293.33L611.00,293.19L611.25,293.43L611.50,293.49L611.75,293.18L612.00,293.06L612.25,292.79L612.50,292.25L612.75,292.12L613.00,292.62L613.25,293.39L613.50,294.41L613.75,294.92L614.00,295.75L614.25,294.88L614.50,294.05L614.75,293.16L615.00,292.05L615.25,291.80L615.50,292.88L615.75,293.92L616.00,294.73L616.25,295.67L616.50,295.84L616.75,295.08L617.00,294.10L617.25,293.18L617.50,292.18L617.75,291.90L618.00,292.59L618.25,293.06L618.50,293.50L618.75,293.83L619.00,294.07L619.25,294.11L619.50,294.02L619.75,294.25L620.00,294.19L620.25,294.23L620.50,294.29L620.75,294.23L621.00,294.28L621.25,294.37L621.50,294.42L621.75,294.46L622.00,294.35L622.25,294.49L622.50,294.78L622.75,295.04L623.00,295.72L623.25,296.33L623.50,296.91L623.75,296.72L624.00,295.61L624.25,294.42L624.50,293.38L624.75,292.19L625.00,292.75L625.25,293.91L625.50,294.44L625.75,295.61L626.00,296.34L626.25,296.07L626.50,295.78L626.75,295.70L627.00,295.20L627.25,294.98L627.50,295.07L627.75,294.71L628.00,295.23L628.25,294.84L628.50,294.99L628.75,295.19L629.00,295.00L629.25,294.97L629.50,295.35L629.75,295.21L630.00,295.40L630.25,295.38L630.50,295.33L630.75,295.60L631.00,295.40L631.25,295.71L631.50,295.40L631.75,295.43L632.00,295.50L632.25,295.65L632.50,295.53L632.75,295.62L633.00,295.92L633.25,295.80L633.50,295.96L633.75,295.90L634.00,295.82L634.25,295.84L634.50,295.99L634.75,296.01L635.00,295.98L635.25,296.01L635.50,296.28L635.75,296.26L636.00,296.21L636.25,296.16L636.50,296.18L636.75,296.50L637.00,296.21L637.38,296.48L637.50,300.24L637.62,296.30L638.00,296.62L638.25,296.39L638.50,296.60L638.75,296.49L639.00,296.42L639.25,296.58L639.50,296.45L639.75,296.55L640.00,296.49L640.38,296.36L640.50,297.81L640.62,296.49L641.00,296.53L641.25,296.60L641.50,296.39L641.75,296.42L642.00,296.08L642.25,295.89L642.50,295.41L642.75,295.01L643.00,295.38L643.25,296.15L643.50,296.67L643.75,297.59L644.00,298.21L644.25,297.46L644.50,296.77L644.75,296.09L645.00,295.33L645.25,294.66L645.50,295.36L645.75,295.62L646.00,296.06L646.25,296.43L646.50,296.57L646.75,296.72L647.00,296.65L647.25,296.60L647.50,296.73L647.75,296.82L648.00,296.81L648.25,296.78L648.50,296.69L648.75,296.74L649.00,296.78L649.25,296.64L649.50,296.92L649.75,296.85L650.00,296.70L650.25,296.67L650.50,296.35L650.75,295.61L651.00,295.38L651.25,295.16L651.50,296.11L651.75,296.62L652.00,297.60L652.25,298.35L652.50,298.60L652.75,297.52L653.00,296.93L653.25,296.28L653.50,295.69L653.75,295.73L654.00,296.53L654.25,297.22L654.50,297.79L654.75,298.60L655.00,298.47L655.25,298.18L655.50,297.81L655.75,297.70L656.00,297.35L656.25,297.10L656.50,297.44L656.75,297.31L657.00,297.22L657.38,297.46L657.50,300.23L657.62,297.49L658.00,297.46L658.25,297.49L658.50,297.30L658.75,297.63L659.00,297.47L659.25,297.58L659.50,297.59L659.75,297.51L660.00,297.49L660.25,297.64L660.50,297.83L660.75,297.63L661.00,297.65L661.25,297.76L661.50,297.70L661.75,297.94L662.00,297.86L662.25,297.88L662.50,297.39L662.75,297.40L663.00,296.84L663.25,296.86L663.50,297.22L663.75,297.81L664.00,298.33L664.25,298.96L664.50,299.16L664.75,298.50L665.00,297.88L665.25,297.58L665.50,297.09L665.75,297.23L666.00,298.02L666.25,298.67L666.50,299.08L666.75,299.70L667.00,299.07L667.25,298.64L667.50,298.15L667.75,297.27L668.00,296.83L668.25,297.15L668.50,297.50L668.75,297.85L669.00,298.12L669.25,298.54L669.50,298.56L669.75,298.50L670.00,298.47L670.25,298.65L670.50,298.70L670.75,298.47L671.00,298.66L671.25,298.59L671.50,298.88L671.75,298.59L672.00,298.57L672.25,298.56L672.50,298.79L672.75,298.58L673.00,298.80L673.25,298.69L673.50,298.93L673.75,298.98L674.00,298.95L674.25,298.60L674.50,298.68L674.75,298.55L675.00,299.21L675.25,298.84L675.50,298.88L675.75,298.96L676.00,299.05L676.25,298.95L676.50,299.02L676.75,299.03L677.00,298.90L677.25,299.29L677.50,299.30L677.75,299.12L678.00,299.12L678.25,299.38L678.50,299.47L678.75,299.21L679.00,299.01L679.25,298.57" fill="none" stroke="#000" stroke-width="3" stroke-linejoin="miter" stroke-miterlimit="6"/>
<path d="M681.20,299.62L682.90,299.61L684.60,299.61L686.30,299.84L688.00,300.08L689.70,299.95L691.40,300.23L693.10,300.29L694.80,300.48L696.50,299.29L698.20,302.08L699.90,300.92L701.60,301.07L703.30,300.99L705.00,301.35L706.70,301.41L708.40,301.48L710.10,301.67L711.80,301.98L713.50,301.94L715.20,302.00L716.90,300.19L718.60,304.67L720.30,300.85L722.00,303.99L723.70,301.42L725.40,302.92L727.10,303.10L728.80,303.42L730.50,303.65L732.20,303.67L733.90,303.95L735.60,304.05L737.30,304.18L739.00,303.14L740.70,306.07L742.40,303.83L744.10,306.13L745.80,305.14L747.50,305.17L749.20,305.30L750.90,305.51L752.60,305.80L754.30,305.88L756.00,306.01L757.70,306.16L759.40,306.28L761.10,307.40L762.80,305.34L764.50,307.80L766.20,306.77L767.90,306.77L769.60,306.99L771.30,307.02L773.00,307.17L774.70,307.18L776.40,307.32L778.10,307.32L779.80,307.45L781.50,307.40L783.20,307.31L784.90,307.54L786.60,306.53L788.30,308.80L790.00,306.58L791.70,308.57L793.40,306.53L795.10,307.80L796.80,307.85L798.50,308.00L800.20,308.16L801.90,308.00L803.60,307.06L805.30,309.27L807.00,308.23L808.70,308.41L810.40,308.47L812.10,308.52L813.80,308.45L815.50,309.60L817.20,307.70L818.90,309.86L820.60,307.21L822.30,310.82L824.00,306.15L825.70,310.72L827.40,307.65L829.10,310.15L830.80,308.48L832.50,310.24L834.20,310.75L835.90,309.38L837.60,309.73L839.30,309.47L841.00,309.61L842.70,309.75L844.40,309.53L846.10,309.90L847.80,308.92L849.50,311.24L851.20,309.28L852.90,310.86L854.60,309.19L856.30,310.17L858.00,310.19L859.70,310.36L861.40,310.47L863.10,310.49L864.80,310.64L866.50,310.73L868.20,310.91L869.90,310.79L871.60,310.83L873.30,313.17L875.00,309.33L876.70,313.27L878.40,311.33L880.10,311.14L881.80,311.37L883.50,311.50L885.20,311.57L886.90,311.35L888.60,311.54L890.30,311.77L892.00,311.71L893.70,311.82L895.40,311.83L897.10,310.37L898.80,313.21L900.50,312.01L902.20,312.12L903.90,312.31L905.60,312.28L907.30,312.15L909.00,312.17L910.70,312.52L912.40,312.35L914.10,312.60L915.80,312.59L917.50,312.75L919.20,310.73L920.90,314.93L922.60,311.31L924.30,313.02L926.00,313.08L927.70,313.33L929.40,313.31L931.10,313.43L932.80,313.37L934.50,313.48L936.20,313.59L937.90,313.56L939.60,313.77L941.30,313.81L943.00,313.81L944.70,312.50L946.40,315.87L948.10,312.14L949.80,314.17L951.50,314.23L953.20,314.25L954.90,314.02L956.60,314.44L958.30,314.56L960.00,314.48L961.70,314.55L963.40,314.77L965.10,314.62L966.80,314.93L968.50,314.93L970.20,315.07L971.90,314.99L973.60,315.06L975.30,315.14L977.00,313.28L978.70,317.25L980.40,315.38L982.10,315.25L983.80,315.28L985.50,315.45L987.20,315.60L988.90,315.51L990.60,315.53L992.30,315.59L994.00,315.68L995.70,315.51L997.40,315.74L999.10,315.78L1000.80,315.87L1002.50,315.91L1004.20,315.90L1005.90,316.06L1007.60,314.29L1009.30,317.78L1011.00,314.17L1012.70,316.00L1014.40,315.96L1016.10,315.99L1017.80,316.07L1019.50,315.97L1021.20,316.23L1022.90,316.19L1024.60,316.31L1026.30,316.11L1028.00,314.61L1029.70,317.60L1031.40,314.22L1033.10,318.19L1034.80,316.41L1036.50,316.42L1038.20,316.27L1039.90,316.42L1041.60,316.42L1043.30,316.42L1045.00,316.49L1046.70,316.27L1048.40,316.40L1050.10,316.45L1051.80,316.40L1053.50,316.38L1055.20,316.59L1056.90,316.59L1058.60,316.67L1060.30,316.41L1062.00,317.38L1063.70,315.45L1065.40,317.40L1067.10,316.39L1068.80,316.55L1070.50,316.49L1072.20,316.33L1073.90,316.51L1075.60,316.33L1077.30,316.55L1079.00,316.37L1080.70,316.34L1082.40,316.57L1084.10,316.59L1085.80,316.47L1087.50,316.38L1089.20,318.46L1090.90,314.03L1092.60,318.47L1094.30,314.29L1096.00,316.35L1097.70,316.45L1099.40,316.11L1101.10,315.55L1102.80,315.36L1104.50,315.92L1106.20,315.90L1107.90,315.65L1109.60,315.46L1111.30,314.32L1113.00,310.64L1114.70,316.60L1116.40,316.66L1118.10,316.24L1119.80,315.23L1121.50,315.74L1123.20,316.79L1124.90,315.82L1126.60,313.32L1128.30,313.96L1130.00,317.09L1131.70,316.65L1133.40,314.37L1135.10,316.79L1136.80,316.45L1138.50,314.27L1140.20,316.29" fill="none" stroke="#000" stroke-width="3.6" stroke-linejoin="miter" stroke-miterlimit="6"/>
<path d="M815.00,309.53L816.10,307.35L817.20,309.57L818.30,306.20L819.40,311.51L820.50,304.76L821.60,298.50L822.70,316.00L823.80,293.50L824.90,323.50L826.00,300.50L827.10,306.01L828.20,311.97L829.30,307.67L830.40,310.67L831.50,307.95" fill="none" stroke="#000" stroke-width="1.2" stroke-linejoin="miter"/>
<path d="M161.00,122.51L161.50,124.64L162.00,124.15L162.50,125.81L163.00,124.91L163.50,125.79L164.00,125.72L164.50,127.75L165.00,127.85L165.50,127.28L166.00,128.70L166.20,128.70L166.50,183.31L166.80,128.97L167.00,128.97L167.50,128.53L168.00,129.25L168.50,129.44L169.00,130.61L169.50,129.36L170.00,130.73L170.50,132.47L171.00,130.34L171.50,132.24L172.00,131.89L172.50,131.40L173.00,134.02L173.50,133.85L174.00,135.56L174.50,133.80L175.00,135.85L175.20,135.85L175.50,189.04L175.80,135.21L176.00,135.21L176.50,137.45L177.00,137.95L177.50,138.08L178.00,139.40L178.50,139.37L179.00,138.86L179.50,139.30L180.00,140.23L180.50,141.97L181.00,141.19L181.50,142.40L182.00,142.15L182.50,143.18L183.00,143.60L183.50,144.57L184.00,145.48L184.50,144.31L185.00,144.33L185.50,145.57L186.00,146.07L186.50,146.77L187.00,147.77L187.50,147.23L188.00,148.01L188.50,148.50L189.00,149.77L189.20,149.77L189.50,198.70L189.80,150.83L190.00,150.83L190.50,151.85L191.00,150.83L191.50,152.50L192.00,152.40L192.50,152.48L193.00,154.48L193.50,154.46L194.00,153.88L194.50,155.03L195.00,154.68L195.50,154.71L196.00,156.98L196.20,156.98L196.50,166.48L196.80,158.49L197.00,158.49L197.50,157.97L198.00,158.60L198.50,158.87L199.00,159.62L199.20,159.62L199.50,191.93L199.80,160.45L200.00,160.45L200.50,159.93L201.00,160.45L201.50,161.33L202.00,162.43L202.50,163.39L203.00,163.90L203.50,165.45L204.00,166.96L204.50,164.07L205.00,167.42L205.50,167.65L206.00,167.17L206.50,168.28L207.00,167.37L207.20,167.37L207.50,176.82L207.80,171.03L208.00,171.03L208.50,169.62L209.00,170.60L209.50,171.63L210.00,172.56L210.50,172.62L211.00,172.69L211.50,173.99L212.00,173.56L212.20,173.56L212.50,215.95L212.80,175.67L213.00,175.67L213.50,175.24L214.00,174.96L214.50,175.47L215.00,175.69L215.20,175.69L215.50,185.12L215.80,177.14L216.00,177.14L216.50,176.22L217.00,177.54L217.50,177.72L218.00,177.32L218.50,179.19L219.00,178.90L219.20,178.90L219.50,194.39L219.80,178.71L220.00,178.71L220.50,178.88L221.00,179.72L221.50,178.95L222.00,180.54L222.50,179.78L223.00,180.87L223.50,181.67L224.00,181.32L224.50,181.37L225.00,181.62L225.50,182.57L226.00,182.00L226.50,183.08L227.00,184.13L227.50,182.43L228.00,183.53L228.50,184.61L229.00,183.95L229.50,184.32L230.00,184.51L230.50,186.31L231.00,184.51L231.50,186.25L232.00,186.50L232.50,186.97L233.00,186.72L233.50,187.63L234.00,187.52L234.50,187.59L235.00,190.32L235.50,189.52L236.00,188.34L236.50,188.91L237.00,190.02L237.50,191.03L238.00,190.19L238.50,191.14L239.00,191.09L239.50,192.10L240.00,191.21L240.20,191.21L240.50,198.40L240.80,192.45L241.00,192.45L241.50,192.79L242.00,192.98L242.50,194.18L243.00,194.18L243.50,194.16L244.00,193.66L244.50,195.38L245.00,195.93L245.50,195.31L246.00,196.16L246.50,195.90L247.00,197.23L247.50,197.47L248.00,196.85L248.50,198.58L249.00,198.82L249.50,199.28L250.00,200.70L250.50,200.75L251.00,201.44L251.50,200.99L252.00,202.53L252.50,201.37L253.00,202.73L253.20,202.73L253.50,235.80L253.80,202.86L254.00,202.86L254.50,202.19L255.00,202.04L255.50,203.67L256.00,203.43L256.50,203.72L257.00,203.45L257.50,203.64L258.00,203.45L258.50,203.37L259.00,203.57L259.50,205.10L260.00,202.78L260.50,202.44L261.00,202.86L261.20,202.86L261.50,209.43L261.80,203.95L262.00,203.95L262.50,204.40L263.00,204.50L263.50,203.62L264.00,204.36L264.50,205.26L265.00,204.52L265.50,205.10L266.00,203.64L266.50,205.08L267.00,205.17L267.50,203.89L268.00,204.94L268.50,205.51L269.00,204.62L269.50,206.05L270.00,206.28L270.50,205.99L271.00,205.88L271.50,206.01L272.00,206.60L272.50,207.32L273.00,205.77L273.50,207.05L274.00,207.29L274.50,206.71L275.00,206.62L275.50,207.58L276.00,206.76L276.20,206.76L276.50,233.11L276.80,208.17L277.00,208.17L277.50,207.80L278.00,208.80L278.50,208.41L279.00,208.72L279.50,210.27L280.00,209.12L280.50,208.08L281.00,210.31L281.50,209.59L282.00,209.91L282.50,211.86L283.00,210.94L283.50,211.79L284.00,210.46L284.50,210.93L285.00,211.30L285.50,212.63L286.00,211.87L286.50,211.21L287.00,213.33L287.50,212.66L288.00,213.32L288.50,214.02L289.00,215.24L289.50,213.92L290.00,215.30L290.20,215.30L290.50,221.95L290.80,214.76L291.00,214.76L291.50,215.08L292.00,213.54L292.50,214.64L293.00,215.05L293.50,216.15L294.00,215.68L294.50,215.96L295.00,216.01L295.50,217.05L296.00,216.91L296.50,217.13L297.00,217.25L297.50,218.13L298.00,217.38L298.50,218.10L299.00,218.36L299.50,218.84L300.00,219.52L300.50,219.28L301.00,218.33L301.50,220.20L302.00,220.59L302.50,220.85L303.00,220.80L303.50,219.32L304.00,220.56L304.50,221.43L305.00,221.67L305.50,221.25L306.00,221.63L306.20,221.63L306.50,242.82L306.80,222.27L307.00,222.27L307.50,220.75L308.00,222.28L308.50,223.34L309.00,222.05L309.50,224.01L310.00,224.72L310.50,223.94L311.00,223.44L311.50,223.69L312.00,223.41L312.50,225.01L313.00,223.95L313.50,225.09L314.00,224.42L314.50,225.80L315.00,224.68L315.50,225.79L316.00,225.61L316.50,227.06L317.00,226.29L317.20,226.29L317.50,234.40L317.80,227.83L318.00,227.83L318.50,226.48L319.00,226.62L319.50,227.68L320.00,227.23L320.50,229.35L321.00,228.50L321.50,228.81L322.00,228.62L322.50,226.87L323.00,230.20L323.50,229.44L324.00,228.33L324.50,229.22L325.00,230.18L325.50,231.29L326.00,230.88L326.50,231.12L327.00,231.32L327.50,230.69L328.00,231.08L328.50,231.78L329.00,231.06L329.50,232.26L330.00,232.93L330.50,231.05L331.00,232.79L331.50,233.00L332.00,233.52L332.50,234.94L333.00,233.01L333.50,235.62L334.00,235.02L334.50,236.57L335.00,234.87L335.50,235.69L336.00,235.66L336.50,236.42L337.00,235.75L337.50,236.15L338.00,236.90L338.50,237.79L339.00,236.73L339.50,237.71L340.00,237.80L340.50,238.72L341.00,239.35L341.50,237.96L342.00,238.52L342.50,239.18L343.00,238.88L343.20,238.88L343.50,261.36L343.80,241.06L344.00,241.06L344.50,240.49L345.00,240.40L345.50,239.32L346.00,239.45L346.50,240.45L347.00,241.20L347.50,239.90L348.00,240.33L348.50,241.24L349.00,241.31L349.50,239.35L350.00,240.23L350.50,240.54L351.00,238.84L351.50,239.65L352.00,240.12L352.50,239.63L353.00,240.39L353.50,239.77L354.00,238.87L354.20,238.87L354.50,247.59L354.80,238.68L355.00,238.68L355.50,239.31L356.00,240.72L356.50,240.59L357.00,240.83L357.50,241.49L358.00,239.87L358.50,240.43L359.00,240.98L359.50,242.18L360.00,241.24L360.50,241.21L361.00,241.49L361.50,241.19L362.00,240.95L362.50,241.94L363.00,241.76L363.50,242.21L364.00,241.77L364.50,242.02L365.00,242.75L365.50,242.71L366.00,243.12L366.50,242.71L367.00,243.13L367.50,243.51L368.00,243.75L368.50,243.58L369.00,243.87L369.50,243.91L370.00,244.06L370.20,244.06L370.50,250.61L370.80,244.63L371.00,244.63L371.50,244.17L372.00,244.81L372.50,244.65L373.00,245.19L373.50,245.28L374.00,245.61L374.50,245.65L375.00,245.87L375.20,245.87L375.50,250.76L375.80,246.78L376.00,246.78L376.50,246.00L377.00,246.00L377.50,246.98L378.00,247.25L378.50,247.20L379.00,247.30L379.50,247.20L380.00,248.44L380.50,247.38L381.00,248.98L381.50,247.79L382.00,248.17L382.50,248.63L383.00,248.74L383.50,249.24L384.00,248.95L384.50,249.30L385.00,249.04L385.50,250.19L386.00,249.84L386.50,249.85L387.00,250.29L387.50,250.76L388.00,250.73L388.50,250.51L389.00,250.97L389.50,251.19L390.00,251.37L390.50,251.26L391.00,251.75L391.50,251.27L392.00,251.84L392.50,251.65L393.00,252.10L393.50,252.01L394.00,252.58L394.50,252.34L395.00,253.03L395.50,252.42L396.00,253.23L396.50,252.70L397.00,252.26L397.50,252.91L398.00,253.69L398.50,253.58L399.00,253.80L399.50,253.61L400.00,253.99L400.50,253.65L401.00,254.72L401.50,254.80L402.00,254.52L402.50,254.28L403.00,254.37L403.50,254.94L404.00,254.97L404.50,254.65L405.00,255.34L405.50,255.51L406.00,255.52L406.50,255.58L407.00,255.64L407.50,255.68L408.00,255.70L408.50,255.71L409.00,256.47L409.50,255.62L410.00,256.32L410.50,256.70L411.00,257.33L411.50,256.52L412.00,257.25L412.50,257.34L413.00,257.35L413.50,257.79L414.00,256.69L414.50,257.75L415.00,257.50L415.50,257.82L416.00,257.74L416.50,257.63L417.00,257.40L417.50,258.33L418.00,258.23L418.50,257.98L419.00,258.54L419.50,258.33L420.00,258.54L420.50,259.05L421.00,259.39L421.50,258.58L422.00,259.36L422.50,259.74L423.00,259.22L423.50,259.69L424.00,260.05L424.50,260.40L425.00,259.81L425.50,259.77L426.00,260.26L426.50,260.44L427.00,260.74L427.50,260.90L428.00,260.34L428.50,261.41L429.00,260.71L429.50,261.55L430.00,261.74L430.50,261.84L431.00,261.93L431.50,262.08L432.00,261.81L432.50,261.92L433.00,263.09L433.50,263.03L434.00,263.07L434.50,263.02L435.00,262.29L435.50,263.63L436.00,263.02L436.50,263.20L437.00,263.60L437.50,263.21L438.00,264.02L438.20,264.02L438.50,265.48L438.80,264.22L439.00,264.22L439.50,264.07L440.00,263.70L440.50,264.40L441.00,264.62L441.50,264.59L442.00,264.74L442.50,264.42L443.00,264.98L443.50,265.07L444.00,265.25L444.50,265.12L445.00,264.39L445.50,265.26L446.00,264.70L446.50,264.97L447.00,265.29L447.50,265.48L448.00,265.40L448.50,265.70L449.00,265.85L449.50,265.81L450.00,265.86L450.50,266.04L451.00,266.24L451.50,265.75L452.00,265.63L452.50,266.61L453.00,266.37L453.50,265.58L454.00,266.88L454.50,266.97L455.00,266.00L455.50,266.31L456.00,266.63L456.50,266.46L457.00,266.76L457.50,267.04L458.00,267.50L458.50,266.36L459.00,267.36L459.50,267.80L460.00,266.64L460.50,267.71L461.00,267.66L461.50,267.58L462.00,268.15L462.50,268.44L463.00,268.46L463.50,268.89L464.00,268.01L464.50,267.64L465.00,268.28L465.50,268.63L466.00,269.10L466.50,268.98L467.00,268.68L467.50,269.50L468.00,269.28L468.50,269.32L469.00,269.28L469.20,269.28L469.50,271.13L469.80,269.79L470.00,269.79L470.50,269.71L471.00,268.97L471.50,269.63L472.00,270.22L472.50,270.75L473.00,270.73L473.50,270.83L474.00,271.18L474.50,270.93L475.00,271.29L475.50,271.31L476.00,271.16L476.50,270.88L477.00,270.74L477.50,271.61L478.00,271.14L478.50,271.67L479.00,272.10L479.50,271.71L480.00,272.42L480.50,272.24L481.00,272.03L481.50,272.68L482.00,272.86L482.50,272.55L483.00,273.03L483.50,272.57L484.00,273.14L484.50,273.33L485.00,272.98L485.50,273.51L486.00,274.11L486.50,273.48L487.00,273.42L487.20,273.42L487.50,275.95L487.80,273.78L488.00,273.78L488.50,273.78L489.00,273.70L489.50,274.44L490.00,274.63L490.50,274.27L491.00,274.75L491.50,275.18L492.00,275.08L492.50,275.13L493.00,275.41L493.50,275.04L494.00,275.71L494.50,276.16L495.00,275.37L495.50,275.04L496.00,275.56L496.50,275.56L497.00,276.11L497.50,276.57L498.00,276.45L498.50,276.96L499.00,276.62L499.50,276.59L500.00,275.97L500.50,276.91L501.00,276.65L501.50,276.79L502.00,276.98L502.50,277.76L503.00,277.59L503.50,277.40L504.00,276.98L504.50,277.44L505.00,277.60L505.50,278.10L506.00,278.09L506.50,278.18L507.00,277.75L507.50,278.53L508.00,279.25L508.50,277.88L509.00,278.11L509.50,278.60L510.00,279.02L510.50,278.86L511.00,278.90L511.50,279.49L512.00,278.67L512.50,278.42L513.00,278.70L513.50,279.62L514.00,279.76L514.50,279.38L515.00,279.09L515.50,279.39L516.00,279.92L516.50,280.22L517.00,279.74L517.50,279.76L518.00,279.81L518.20,279.81L518.50,285.55L518.80,280.56L519.00,280.56L519.50,280.47L520.00,280.62L520.50,280.62L521.00,280.74L521.50,280.29L522.00,280.46L522.50,281.05L523.00,281.16L523.50,281.49L524.00,281.16L524.50,280.96L525.00,281.28L525.50,281.35L526.00,281.72L526.50,281.55L527.00,281.88L527.50,281.97L528.00,282.06L528.50,282.16L529.00,281.68L529.50,282.52L530.00,282.79L530.50,282.59L531.00,282.95L531.50,282.61L532.00,282.35L532.50,282.82L533.00,282.70L533.50,282.75L534.00,283.44L534.50,282.64L535.00,283.43L535.50,282.91L536.00,282.58L536.50,283.53L537.00,283.39L537.50,283.51L538.00,283.60L538.50,283.98L539.00,283.80L539.50,283.66L540.00,283.80L540.50,284.07L541.00,283.79L541.50,284.20L542.00,283.42L542.50,284.18L543.00,284.29L543.50,284.62L544.00,284.06L544.50,284.45L545.00,284.75L545.50,285.67L546.00,284.81L546.50,285.03L547.00,284.71L547.50,285.72L548.00,284.96L548.50,285.03L549.00,285.24L549.50,284.81L550.00,284.98L550.50,285.28L551.00,285.20L551.50,285.89L552.00,285.45L552.50,286.48L553.00,285.86L553.50,285.59L554.00,285.97L554.50,286.23L555.00,286.06L555.50,286.29L556.00,286.13L556.50,286.01L557.00,286.32L557.50,287.03L558.00,286.36L558.50,286.55L559.00,286.11L559.50,286.49L560.00,286.90L560.50,286.74L561.00,287.34L561.50,287.35L562.00,286.93L562.50,287.12L563.00,287.46L563.50,287.43L564.00,287.28L564.50,286.82L565.00,288.01L565.50,287.62L566.00,287.75L566.50,287.52L567.00,288.36L567.50,287.88L568.00,288.06L568.50,287.38L569.00,287.99L569.50,288.21L570.00,288.45L570.50,288.63L571.00,288.40L571.50,288.90L572.00,288.58L572.50,288.65L573.00,288.78L573.50,288.28L574.00,288.18L574.50,289.66L575.00,288.50L575.50,288.97L576.00,289.46L576.50,289.10L577.00,289.80L577.50,288.81L578.00,289.61L578.50,289.86L579.00,290.48L579.50,290.31L580.00,289.63L580.50,290.25L581.00,290.12L581.50,289.68L582.00,290.00L582.50,290.61L583.00,290.22L583.50,290.06L584.00,290.25L584.50,290.10L585.00,290.06L585.50,290.80L586.00,290.90L586.50,291.16L587.00,290.33L587.50,290.54L588.00,291.14L588.50,291.11L589.00,291.06L589.50,290.77L590.00,291.13L590.50,290.81L591.00,291.88L591.50,291.65L592.00,291.13L592.50,291.95L593.00,291.23L593.50,291.84L594.00,291.75L594.50,291.61L595.00,292.27L595.50,291.28L596.00,291.79L596.50,291.85L597.00,291.40L597.50,291.55L598.00,292.16L598.50,292.26L599.00,291.88L599.50,292.47L600.00,292.49L600.50,292.64L601.00,292.35L601.50,292.45L602.00,292.74L602.50,292.39L603.00,292.34L603.50,292.26L604.00,292.90L604.50,293.22L605.00,292.20L605.50,292.79L606.00,293.18L606.50,293.49L607.00,293.13L607.50,292.81L608.00,293.38L608.50,293.98L609.00,293.37L609.50,293.53L610.00,293.93L610.50,292.88L611.00,293.71L611.50,293.99L612.00,293.87L612.50,293.64L613.00,293.50L613.50,293.48L614.00,293.27L614.50,293.59L615.00,293.40L615.50,293.82L616.00,293.82L616.50,293.74L617.00,293.84L617.50,294.04L618.00,293.65L618.50,294.32L619.00,294.21L619.50,294.40L620.00,294.13L620.50,294.22L621.00,294.38L621.50,294.41L622.00,294.29L622.50,294.36L623.00,294.34L623.50,294.44L624.00,294.36L624.50,294.39L625.00,294.38L625.50,295.23L626.00,294.59L626.50,294.84L627.00,294.60L627.50,295.04L628.00,295.47L628.50,294.88L629.00,295.24L629.50,295.23L630.00,295.62L630.50,295.38L631.00,295.44L631.50,295.48L632.00,294.98L632.50,296.04L633.00,296.34L633.50,295.59L634.00,296.23L634.50,296.02L635.00,296.58L635.50,295.98L636.00,296.37L636.50,296.73L637.00,296.53L637.20,296.53L637.50,304.13L637.80,296.42L638.00,296.42L638.50,296.28L639.00,296.56L639.50,296.22L640.00,297.13L640.20,297.13L640.50,297.67L640.80,296.57L641.00,296.57L641.50,296.13L642.00,297.00L642.50,297.11L643.00,296.82L643.50,296.98L644.00,296.99L644.50,296.69L645.00,296.63L645.50,296.77L646.00,297.16L646.50,296.58L647.00,296.26L647.50,296.84L648.00,296.86L648.50,296.82L649.00,296.94L649.50,296.52L650.00,296.65L650.50,296.84L651.00,296.98L651.50,297.20L652.00,297.31L652.50,297.18L653.00,297.10L653.50,296.86L654.00,297.07L654.50,296.75L655.00,297.07L655.50,297.48L656.00,297.57L656.50,297.09L657.00,297.85L657.20,297.85L657.50,299.94L657.80,297.72L658.00,297.72L658.50,297.58L659.00,297.57L659.50,297.80L660.00,297.57L660.50,298.49L661.00,297.64L661.50,297.72L662.00,297.97L662.50,297.26L663.00,297.91L663.50,297.53L664.00,298.48L664.50,297.91L665.00,298.07L665.50,297.57L666.00,298.79L666.50,297.67L667.00,297.79L667.50,298.07L668.00,297.61L668.50,297.96L669.00,298.29L669.50,298.82L670.00,298.88L670.50,298.17L671.00,298.41L671.50,298.86L672.00,299.06L672.50,298.44L673.00,298.67L673.50,298.79L674.00,298.88L674.50,298.79L675.00,299.51L675.50,298.89L676.00,299.40L676.50,299.22L677.00,300.26L677.50,299.62L678.00,298.53L678.50,299.43L679.00,298.57" fill="none" stroke="#ffff00" stroke-width="1.0" stroke-linejoin="round"/>
<path d="M161.00,122.51L161.50,124.64L162.00,124.15M164.00,125.72L164.50,127.75L165.00,127.85L165.50,127.28L166.00,128.70L166.20,128.70L166.50,183.31L166.80,128.97L167.00,128.97L167.50,128.53L168.00,129.25L168.50,129.44L169.00,130.61L169.50,129.36L170.00,130.73L170.50,132.47L171.00,130.34L171.50,132.24L172.00,131.89L172.50,131.40L173.00,134.02L173.50,133.85L174.00,135.56M176.00,135.21L176.50,137.45L177.00,137.95L177.50,138.08L178.00,139.40L178.50,139.37L179.00,138.86L179.50,139.30L180.00,140.23L180.50,141.97L181.00,141.19L181.50,142.40L182.00,142.15M184.00,145.48L184.50,144.31L185.00,144.33L185.50,145.57L186.00,146.07L186.50,146.77L187.00,147.77L187.50,147.23L188.00,148.01M189.00,149.77L189.20,149.77L189.50,198.70L189.80,150.83L190.00,150.83L190.50,151.85L191.00,150.83L191.50,152.50L192.00,152.40L192.50,152.48L193.00,154.48L193.50,154.46L194.00,153.88L194.50,155.03L195.00,154.68L195.50,154.71M201.50,161.33L202.00,162.43L202.50,163.39L203.00,163.90L203.50,165.45L204.00,166.96L204.50,164.07L205.00,167.42L205.50,167.65L206.00,167.17L206.50,168.28L207.00,167.37M209.00,170.60L209.50,171.63L210.00,172.56L210.50,172.62L211.00,172.69L211.50,173.99L212.00,173.56L212.20,173.56L212.50,215.95L212.80,175.67L213.00,175.67L213.50,175.24L214.00,174.96L214.50,175.47M218.50,179.19L219.00,178.90L219.20,178.90L219.50,194.39L219.80,178.71L220.00,178.71L220.50,178.88L221.00,179.72L221.50,178.95L222.00,180.54L222.50,179.78L223.00,180.87L223.50,181.67L224.00,181.32L224.50,181.37L225.00,181.62L225.50,182.57L226.00,182.00L226.50,183.08L227.00,184.13L227.50,182.43L228.00,183.53L228.50,184.61L229.00,183.95L229.50,184.32L230.00,184.51L230.50,186.31L231.00,184.51L231.50,186.25L232.00,186.50L232.50,186.97L233.00,186.72L233.50,187.63L234.00,187.52L234.50,187.59L235.00,190.32L235.50,189.52L236.00,188.34L236.50,188.91L237.00,190.02L237.50,191.03L238.00,190.19L238.50,191.14L239.00,191.09L239.50,192.10L240.00,191.21L240.20,191.21L240.50,198.40L240.80,192.45L241.00,192.45L241.50,192.79L242.00,192.98L242.50,194.18L243.00,194.18L243.50,194.16L244.00,193.66L244.50,195.38L245.00,195.93L245.50,195.31L246.00,196.16L246.50,195.90L247.00,197.23L247.50,197.47L248.00,196.85L248.50,198.58L249.00,198.82L249.50,199.28L250.00,200.70L250.50,200.75L251.00,201.44L251.50,200.99L252.00,202.53L252.50,201.37L253.00,202.73L253.20,202.73L253.50,235.80L253.80,202.86L254.00,202.86L254.50,202.19M258.50,203.37L259.00,203.57L259.50,205.10M263.50,203.62L264.00,204.36L264.50,205.26L265.00,204.52L265.50,205.10L266.00,203.64L266.50,205.08L267.00,205.17L267.50,203.89M272.50,207.32L273.00,205.77L273.50,207.05M278.50,208.41L279.00,208.72L279.50,210.27L280.00,209.12L280.50,208.08L281.00,210.31L281.50,209.59L282.00,209.91L282.50,211.86L283.00,210.94L283.50,211.79L284.00,210.46L284.50,210.93L285.00,211.30L285.50,212.63L286.00,211.87L286.50,211.21L287.00,213.33L287.50,212.66L288.00,213.32L288.50,214.02L289.00,215.24L289.50,213.92L290.00,215.30L290.20,215.30L290.50,221.95L290.80,214.76L291.00,214.76L291.50,215.08L292.00,213.54L292.50,214.64L293.00,215.05L293.50,216.15L294.00,215.68L294.50,215.96L295.00,216.01L295.50,217.05L296.00,216.91L296.50,217.13L297.00,217.25L297.50,218.13L298.00,217.38L298.50,218.10L299.00,218.36L299.50,218.84L300.00,219.52L300.50,219.28L301.00,218.33L301.50,220.20L302.00,220.59L302.50,220.85L303.00,220.80L303.50,219.32L304.00,220.56L304.50,221.43L305.00,221.67L305.50,221.25L306.00,221.63L306.20,221.63L306.50,242.82L306.80,222.27L307.00,222.27L307.50,220.75L308.00,222.28L308.50,223.34L309.00,222.05L309.50,224.01L310.00,224.72L310.50,223.94L311.00,223.44L311.50,223.69L312.00,223.41L312.50,225.01L313.00,223.95L313.50,225.09L314.00,224.42L314.50,225.80L315.00,224.68L315.50,225.79M319.50,227.68L320.00,227.23L320.50,229.35L321.00,228.50L321.50,228.81L322.00,228.62L322.50,226.87L323.00,230.20L323.50,229.44L324.00,228.33L324.50,229.22L325.00,230.18L325.50,231.29L326.00,230.88L326.50,231.12L327.00,231.32L327.50,230.69L328.00,231.08L328.50,231.78L329.00,231.06L329.50,232.26L330.00,232.93L330.50,231.05L331.00,232.79L331.50,233.00L332.00,233.52L332.50,234.94L333.00,233.01L333.50,235.62L334.00,235.02L334.50,236.57L335.00,234.87L335.50,235.69L336.00,235.66L336.50,236.42L337.00,235.75L337.50,236.15L338.00,236.90L338.50,237.79L339.00,236.73L339.50,237.71L340.00,237.80L340.50,238.72L341.00,239.35L341.50,237.96L342.00,238.52L342.50,239.18L343.00,238.88L343.20,238.88L343.50,261.36L343.80,241.06L344.00,241.06L344.50,240.49L345.00,240.40L345.50,239.32L346.00,239.45L346.50,240.45L347.00,241.20L347.50,239.90L348.00,240.33L348.50,241.24L349.00,241.31L349.50,239.35L350.00,240.23L350.50,240.54L351.00,238.84L351.50,239.65M355.50,239.31L356.00,240.72L356.50,240.59L357.00,240.83L357.50,241.49L358.00,239.87L358.50,240.43L359.00,240.98L359.50,242.18L360.00,241.24L360.50,241.21L361.00,241.49L361.50,241.19L362.00,240.95L362.50,241.94L363.00,241.76L363.50,242.21L364.00,241.77L364.50,242.02L365.00,242.75L365.50,242.71L366.00,243.12L366.50,242.71L367.00,243.13L367.50,243.51" fill="none" stroke="#ff0000" stroke-width="1.75" stroke-linejoin="round"/>
<path d="M372.50,244.65L373.00,245.19L373.50,245.28M377.50,246.98L378.00,247.25L378.50,247.20L379.00,247.30L379.50,247.20L380.00,248.44L380.50,247.38L381.00,248.98L381.50,247.79L382.00,248.17L382.50,248.63L383.00,248.74L383.50,249.24L384.00,248.95L384.50,249.30L385.00,249.04L385.50,250.19L386.00,249.84L386.50,249.85L387.00,250.29L387.50,250.76L388.00,250.73L388.50,250.51L389.00,250.97L389.50,251.19L390.00,251.37L390.50,251.26L391.00,251.75L391.50,251.27L392.00,251.84L392.50,251.65L393.00,252.10L393.50,252.01L394.00,252.58L394.50,252.34L395.00,253.03L395.50,252.42L396.00,253.23L396.50,252.70L397.00,252.26L397.50,252.91L398.00,253.69L398.50,253.58L399.00,253.80L399.50,253.61L400.00,253.99L400.50,253.65L401.00,254.72L401.50,254.80L402.00,254.52L402.50,254.28L403.00,254.37L403.50,254.94L404.00,254.97L404.50,254.65L405.00,255.34L405.50,255.51L406.00,255.52L406.50,255.58L407.00,255.64L407.50,255.68L408.00,255.70L408.50,255.71L409.00,256.47L409.50,255.62L410.00,256.32L410.50,256.70L411.00,257.33L411.50,256.52L412.00,257.25L412.50,257.34L413.00,257.35L413.50,257.79L414.00,256.69L414.50,257.75L415.00,257.50L415.50,257.82L416.00,257.74L416.50,257.63L417.00,257.40L417.50,258.33L418.00,258.23L418.50,257.98L419.00,258.54L419.50,258.33L420.00,258.54L420.50,259.05L421.00,259.39L421.50,258.58L422.00,259.36L422.50,259.74L423.00,259.22L423.50,259.69L424.00,260.05L424.50,260.40L425.00,259.81L425.50,259.77L426.00,260.26L426.50,260.44L427.00,260.74L427.50,260.90L428.00,260.34L428.50,261.41L429.00,260.71L429.50,261.55L430.00,261.74L430.50,261.84L431.00,261.93L431.50,262.08L432.00,261.81L432.50,261.92L433.00,263.09L433.50,263.03L434.00,263.07L434.50,263.02L435.00,262.29L435.50,263.63L436.00,263.02L436.50,263.20L437.00,263.60L437.50,263.21L438.00,264.02L438.20,264.02L438.50,265.48L438.80,264.22L439.00,264.22L439.50,264.07L440.00,263.70L440.50,264.40L441.00,264.62L441.50,264.59L442.00,264.74L442.50,264.42L443.00,264.98L443.50,265.07L444.00,265.25L444.50,265.12M449.50,265.81L450.00,265.86L450.50,266.04L451.00,266.24L451.50,265.75L452.00,265.63L452.50,266.61L453.00,266.37L453.50,265.58L454.00,266.88L454.50,266.97L455.00,266.00L455.50,266.31L456.00,266.63L456.50,266.46L457.00,266.76L457.50,267.04L458.00,267.50L458.50,266.36L459.00,267.36L459.50,267.80L460.00,266.64L460.50,267.71L461.00,267.66L461.50,267.58L462.00,268.15L462.50,268.44L463.00,268.46L463.50,268.89L464.00,268.01L464.50,267.64M469.50,271.13L469.80,269.79L470.00,269.79L470.50,269.71L471.00,268.97L471.50,269.63L472.00,270.22L472.50,270.75L473.00,270.73L473.50,270.83L474.00,271.18L474.50,270.93L475.00,271.29L475.50,271.31L476.00,271.16L476.50,270.88L477.00,270.74L477.50,271.61L478.00,271.14L478.50,271.67L479.00,272.10L479.50,271.71L480.00,272.42L480.50,272.24L481.00,272.03L481.50,272.68L482.00,272.86L482.50,272.55L483.00,273.03L483.50,272.57L484.00,273.14L484.50,273.33L485.00,272.98L485.50,273.51L486.00,274.11L486.50,273.48L487.00,273.42L487.20,273.42L487.50,275.95L487.80,273.78L488.00,273.78L488.50,273.78L489.00,273.70L489.50,274.44L490.00,274.63L490.50,274.27L491.00,274.75L491.50,275.18L492.00,275.08L492.50,275.13L493.00,275.41L493.50,275.04L494.00,275.71L494.50,276.16L495.00,275.37L495.50,275.04L496.00,275.56L496.50,275.56L497.00,276.11L497.50,276.57L498.00,276.45L498.50,276.96L499.00,276.62L499.50,276.59L500.00,275.97L500.50,276.91L501.00,276.65L501.50,276.79L502.00,276.98L502.50,277.76L503.00,277.59L503.50,277.40L504.00,276.98L504.50,277.44L505.00,277.60L505.50,278.10L506.00,278.09L506.50,278.18L507.00,277.75L507.50,278.53L508.00,279.25L508.50,277.88L509.00,278.11L509.50,278.60L510.00,279.02L510.50,278.86L511.00,278.90L511.50,279.49L512.00,278.67L512.50,278.42L513.00,278.70L513.50,279.62L514.00,279.76L514.50,279.38L515.00,279.09L515.50,279.39M524.50,280.96L525.00,281.28L525.50,281.35L526.00,281.72L526.50,281.55L527.00,281.88L527.50,281.97L528.00,282.06L528.50,282.16L529.00,281.68L529.50,282.52L530.00,282.79L530.50,282.59L531.00,282.95L531.50,282.61L532.00,282.35L532.50,282.82L533.00,282.70L533.50,282.75L534.00,283.44L534.50,282.64L535.00,283.43L535.50,282.91L536.00,282.58L536.50,283.53L537.00,283.39L537.50,283.51L538.00,283.60L538.50,283.98L539.00,283.80L539.50,283.66L540.00,283.80L540.50,284.07L541.00,283.79L541.50,284.20L542.00,283.42L542.50,284.18L543.00,284.29L543.50,284.62L544.00,284.06L544.50,284.45L545.00,284.75L545.50,285.67L546.00,284.81L546.50,285.03L547.00,284.71L547.50,285.72L548.00,284.96L548.50,285.03L549.00,285.24L549.50,284.81L550.00,284.98L550.50,285.28L551.00,285.20L551.50,285.89L552.00,285.45L552.50,286.48L553.00,285.86L553.50,285.59L554.00,285.97L554.50,286.23L555.00,286.06L555.50,286.29L556.00,286.13L556.50,286.01L557.00,286.32L557.50,287.03L558.00,286.36L558.50,286.55L559.00,286.11L559.50,286.49L560.00,286.90L560.50,286.74L561.00,287.34L561.50,287.35L562.00,286.93L562.50,287.12L563.00,287.46L563.50,287.43L564.00,287.28L564.50,286.82L565.00,288.01L565.50,287.62L566.00,287.75L566.50,287.52L567.00,288.36L567.50,287.88L568.00,288.06L568.50,287.38L569.00,287.99L569.50,288.21L570.00,288.45L570.50,288.63L571.00,288.40L571.50,288.90L572.00,288.58L572.50,288.65L573.00,288.78L573.50,288.28L574.00,288.18L574.50,289.66L575.00,288.50L575.50,288.97L576.00,289.46L576.50,289.10L577.00,289.80L577.50,288.81L578.00,289.61L578.50,289.86L579.00,290.48L579.50,290.31L580.00,289.63L580.50,290.25L581.00,290.12L581.50,289.68L582.00,290.00L582.50,290.61L583.00,290.22L583.50,290.06L584.00,290.25L584.50,290.10L585.00,290.06L585.50,290.80L586.00,290.90L586.50,291.16L587.00,290.33L587.50,290.54L588.00,291.14L588.50,291.11L589.00,291.06L589.50,290.77M594.50,291.61L595.00,292.27L595.50,291.28L596.00,291.79L596.50,291.85L597.00,291.40L597.50,291.55L598.00,292.16L598.50,292.26L599.00,291.88L599.50,292.47L600.00,292.49L600.50,292.64M605.50,292.79L606.00,293.18L606.50,293.49L607.00,293.13L607.50,292.81L608.00,293.38L608.50,293.98L609.00,293.37L609.50,293.53L610.00,293.93L610.50,292.88L611.00,293.71L611.50,293.99L612.00,293.87L612.50,293.64L613.00,293.50L613.50,293.48L614.00,293.27L614.50,293.59L615.00,293.40L615.50,293.82L616.00,293.82L616.50,293.74L617.00,293.84L617.50,294.04L618.00,293.65L618.50,294.32L619.00,294.21L619.50,294.40L620.00,294.13L620.50,294.22L621.00,294.38L621.50,294.41L622.00,294.29L622.50,294.36L623.00,294.34L623.50,294.44L624.00,294.36L624.50,294.39L625.00,294.38L625.50,295.23L626.00,294.59L626.50,294.84L627.00,294.60L627.50,295.04L628.00,295.47L628.50,294.88L629.00,295.24L629.50,295.23L630.00,295.62L630.50,295.38L631.00,295.44L631.50,295.48L632.00,294.98L632.50,296.04L633.00,296.34L633.50,295.59L634.00,296.23L634.50,296.02L635.00,296.58L635.50,295.98L636.00,296.37L636.50,296.73L637.00,296.53L637.20,296.53L637.50,304.13L637.80,296.42L638.00,296.42L638.50,296.28L639.00,296.56L639.50,296.22L640.00,297.13L640.20,297.13L640.50,297.67L640.80,296.57L641.00,296.57L641.50,296.13L642.00,297.00L642.50,297.11L643.00,296.82L643.50,296.98L644.00,296.99L644.50,296.69L645.00,296.63L645.50,296.77L646.00,297.16L646.50,296.58L647.00,296.26L647.50,296.84L648.00,296.86L648.50,296.82L649.00,296.94L649.50,296.52L650.00,296.65L650.50,296.84L651.00,296.98L651.50,297.20L652.00,297.31L652.50,297.18L653.00,297.10L653.50,296.86L654.00,297.07L654.50,296.75M665.50,297.57L666.00,298.79L666.50,297.67L667.00,297.79L667.50,298.07L668.00,297.61L668.50,297.96L669.00,298.29L669.50,298.82L670.00,298.88L670.50,298.17L671.00,298.41L671.50,298.86L672.00,299.06L672.50,298.44L673.00,298.67L673.50,298.79L674.00,298.88L674.50,298.79L675.00,299.51L675.50,298.89L676.00,299.40L676.50,299.22L677.00,300.26L677.50,299.62L678.00,298.53L678.50,299.43L679.00,298.57" fill="none" stroke="#ff0000" stroke-width="1.35" stroke-linejoin="round"/>
<path d="M160.00,213.75L161.00,213.65L162.00,213.54L163.00,213.45L164.00,213.35L165.00,213.26L166.00,213.17L167.00,213.08L168.00,213.00L169.00,212.91L170.00,212.82L171.00,212.72L172.00,212.64L173.00,212.57L174.00,212.52L175.00,212.50L176.00,212.50L177.00,212.50L178.00,212.50L179.00,212.50L180.00,212.50L181.00,212.50L182.00,212.50L183.00,212.50L184.00,212.50L185.00,212.50L186.00,212.50L187.00,212.50L188.00,212.51L189.00,212.55L190.00,212.65L191.00,212.78L192.00,212.95L193.00,213.14L194.00,213.37L195.00,213.61L196.00,213.87L197.00,214.15L198.00,214.43L199.00,214.72L200.00,215.00L201.00,215.32L202.00,215.70L203.00,216.13L204.00,216.60L205.00,217.11L206.00,217.64L207.00,218.19L208.00,218.74L209.00,219.28L210.00,219.81L211.00,220.31L212.00,220.78L213.00,221.21L214.00,221.65L215.00,222.10L216.00,222.54L217.00,222.99L218.00,223.42L219.00,223.84L220.00,224.25L221.00,224.62L222.00,224.96L223.00,225.27L224.00,225.53L225.00,225.75L226.00,225.94L227.00,226.13L228.00,226.31L229.00,226.47L230.00,226.60L231.00,226.69L232.00,226.74L233.00,226.75L234.00,226.72L235.00,226.66L236.00,226.57L237.00,226.46L238.00,226.33L239.00,226.18L240.00,226.01L241.00,225.83L242.00,225.63L243.00,225.43L244.00,225.22L245.00,225.00L246.00,224.74L247.00,224.41L248.00,224.02L249.00,223.57L250.00,223.07L251.00,222.54L252.00,221.97L253.00,221.39L254.00,220.80L255.00,220.20L256.00,219.61L257.00,219.03L258.00,218.47L259.00,217.88L260.00,217.25L261.00,216.61L262.00,215.94L263.00,215.27L264.00,214.60L265.00,213.94L266.00,213.29L267.00,212.66L268.00,212.07L269.00,211.51L270.00,211.00L271.00,210.50L272.00,209.99L273.00,209.47L274.00,208.96L275.00,208.45L276.00,207.97L277.00,207.52L278.00,207.11L279.00,206.75L280.00,206.44L281.00,206.21L282.00,206.05L283.00,205.96L284.00,205.90L285.00,205.83L286.00,205.77L287.00,205.72L288.00,205.67L289.00,205.63L290.00,205.59L291.00,205.56L292.00,205.53L293.00,205.51L294.00,205.50L295.00,205.50L296.00,205.52L297.00,205.58L298.00,205.67L299.00,205.79L300.00,205.93L301.00,206.09L302.00,206.27L303.00,206.46L304.00,206.66L305.00,206.85L306.00,207.05L307.00,207.24L308.00,207.43L309.00,207.59L310.00,207.74L311.00,207.87L312.00,207.96L313.00,208.03L314.00,208.10L315.00,208.16L316.00,208.23L317.00,208.29L318.00,208.35L319.00,208.40L320.00,208.46L321.00,208.51L322.00,208.55L323.00,208.60L324.00,208.64L325.00,208.67L326.00,208.70L327.00,208.72L328.00,208.74L329.00,208.75L330.00,208.75L331.00,208.74L332.00,208.71L333.00,208.66L334.00,208.60L335.00,208.53L336.00,208.44L337.00,208.34L338.00,208.23L339.00,208.12L340.00,208.00L341.00,207.85L342.00,207.64L343.00,207.39L344.00,207.10L345.00,206.78L346.00,206.44L347.00,206.08L348.00,205.72L349.00,205.35L350.00,205.00L351.00,204.64L352.00,204.26L353.00,203.86L354.00,203.44L355.00,203.01L356.00,202.56L357.00,202.12L358.00,201.67L359.00,201.22L360.00,200.77L361.00,200.34L362.00,199.91L363.00,199.51L364.00,199.12L365.00,198.75L366.00,198.40L367.00,198.05L368.00,197.70L369.00,197.35L370.00,197.01L371.00,196.67L372.00,196.33L373.00,196.00L374.00,195.67L375.00,195.35L376.00,195.03L377.00,194.72L378.00,194.41L379.00,194.10L380.00,193.81L381.00,193.52L382.00,193.23L383.00,192.96L384.00,192.69L385.00,192.43L386.00,192.18L387.00,191.93L388.00,191.69L389.00,191.47L390.00,191.25L391.00,191.03L392.00,190.81L393.00,190.59L394.00,190.38L395.00,190.17L396.00,189.99L397.00,189.82L398.00,189.68L399.00,189.57L400.00,189.50L401.00,189.45L402.00,189.40L403.00,189.36L404.00,189.31L405.00,189.27L406.00,189.23L407.00,189.20L408.00,189.16L409.00,189.13L410.00,189.11L411.00,189.08L412.00,189.06L413.00,189.04L414.00,189.03L415.00,189.02L416.00,189.01L417.00,189.00L418.00,189.00L419.00,189.00L420.00,189.00L421.00,189.00L422.00,189.00L423.00,189.00L424.00,189.00L425.00,189.00L426.00,189.00L427.00,189.00L428.00,189.00L429.00,189.00L430.00,189.00L431.00,189.00L432.00,189.00L433.00,189.00L434.00,189.00L435.00,189.00L436.00,188.98L437.00,188.91L438.00,188.81L439.00,188.67L440.00,188.49L441.00,188.29L442.00,188.06L443.00,187.81L444.00,187.54L445.00,187.26L446.00,186.96L447.00,186.66L448.00,186.35L449.00,186.04L450.00,185.73L451.00,185.43L452.00,185.14L453.00,184.86L454.00,184.53L455.00,184.18L456.00,183.79L457.00,183.38L458.00,182.95L459.00,182.52L460.00,182.07L461.00,181.63L462.00,181.20L463.00,180.78L464.00,180.38L465.00,180.00L466.00,179.66L467.00,179.36L468.00,179.10L469.00,178.90L470.00,178.75L471.00,178.63L472.00,178.52L473.00,178.42L474.00,178.32L475.00,178.23L476.00,178.15L477.00,178.09L478.00,178.04L479.00,178.01L480.00,178.00L481.00,178.03L482.00,178.10L483.00,178.22L484.00,178.37L485.00,178.56L486.00,178.78L487.00,179.02L488.00,179.28L489.00,179.56L490.00,179.84L491.00,180.13L492.00,180.42L493.00,180.71L494.00,180.99L495.00,181.25L496.00,181.52L497.00,181.84L498.00,182.18L499.00,182.55L500.00,182.94L501.00,183.35L502.00,183.76L503.00,184.18L504.00,184.60L505.00,185.01L506.00,185.41L507.00,185.79L508.00,186.14L509.00,186.47L510.00,186.76L511.00,187.01L512.00,187.22L513.00,187.37L514.00,187.47L515.00,187.50L516.00,187.50L517.00,187.50L518.00,187.50L519.00,187.50L520.00,187.50L521.00,187.50L522.00,187.50L523.00,187.49L524.00,187.40L525.00,187.24L526.00,187.02L527.00,186.74L528.00,186.44L529.00,186.11L530.00,185.78L531.00,185.45L532.00,185.14L533.00,184.86L534.00,184.54L535.00,184.19L536.00,183.81L537.00,183.41L538.00,183.00L539.00,182.58L540.00,182.16L541.00,181.75L542.00,181.35L543.00,180.97L544.00,180.62L545.00,180.31L546.00,180.04L547.00,179.81L548.00,179.64L549.00,179.54L550.00,179.50L551.00,179.50L552.00,179.50L553.00,179.50L554.00,179.50L555.00,179.50L556.00,179.50L557.00,179.50L558.00,179.50L559.00,179.50L560.00,179.50L561.00,179.50L562.00,179.50L563.00,179.52L564.00,179.63L565.00,179.85L566.00,180.16L567.00,180.55L568.00,181.00L569.00,181.51L570.00,182.06L571.00,182.64L572.00,183.24L573.00,183.84L574.00,184.43L575.00,185.00L576.00,185.54L577.00,186.03L578.00,186.47L579.00,186.92L580.00,187.39L581.00,187.86L582.00,188.34L583.00,188.82L584.00,189.29L585.00,189.76L586.00,190.21L587.00,190.65L588.00,191.06L589.00,191.44L590.00,191.79L591.00,192.11L592.00,192.38L593.00,192.61L594.00,192.85L595.00,193.08L596.00,193.29L597.00,193.47L598.00,193.62L599.00,193.72L600.00,193.75L601.00,193.71L602.00,193.60L603.00,193.41L604.00,193.17L605.00,192.88L606.00,192.54L607.00,192.17L608.00,191.76L609.00,191.34L610.00,190.90L611.00,190.45L612.00,190.01L613.00,189.57L614.00,189.15L615.00,188.75L616.00,188.34L617.00,187.89L618.00,187.40L619.00,186.89L620.00,186.36L621.00,185.82L622.00,185.28L623.00,184.75L624.00,184.23L625.00,183.74L626.00,183.29L627.00,182.88L628.00,182.52L629.00,182.23L630.00,182.00L631.00,181.81L632.00,181.63L633.00,181.45L634.00,181.29L635.00,181.14L636.00,181.01L637.00,180.90L638.00,180.82L639.00,180.77L640.00,180.75L641.00,180.79L642.00,180.91L643.00,181.09L644.00,181.33L645.00,181.62L646.00,181.96L647.00,182.32L648.00,182.71L649.00,183.11L650.00,183.51L651.00,183.92L652.00,184.31L653.00,184.69L654.00,185.13L655.00,185.61L656.00,186.13L657.00,186.69L658.00,187.26L659.00,187.85L660.00,188.44L661.00,189.03L662.00,189.59L663.00,190.14L664.00,190.64L665.00,191.10L666.00,191.51L667.00,191.86L668.00,192.13L669.00,192.39L670.00,192.64L671.00,192.87L672.00,193.09L673.00,193.28L674.00,193.45L675.00,193.59L676.00,193.71" fill="none" stroke="#1888f8" stroke-width="2.6" stroke-linejoin="round" stroke-linecap="butt"/>
<path d="M160.5,328.7L160.8,326.7L161.1,324.4L161.4,325.8L161.7,326.6L162.0,328.8L162.3,327.2L162.6,327.6L162.9,332.2L163.2,326.4L163.5,325.2L163.8,326.7L164.1,327.2L164.4,328.1L164.7,328.3L165.0,330.8L165.3,332.5L165.6,335.2L165.9,335.0L166.2,334.9L166.5,333.2L166.8,331.5L167.1,330.0L167.4,327.5L167.7,329.3L168.0,328.5L168.3,327.4L168.6,327.8L168.9,325.3L169.2,326.1L169.5,326.3L169.8,327.1L170.1,327.8L170.4,331.5L170.7,332.8L171.0,326.8L171.3,328.2L171.6,326.5L171.9,327.4L172.2,324.8L172.5,326.9L172.8,326.5L173.1,324.4L173.4,327.9L173.7,328.7L174.0,328.4L174.3,327.6L174.6,329.1L174.9,330.3L175.2,334.3L175.5,336.5L175.8,338.3L176.1,337.8L176.4,337.7L176.7,334.1L177.0,331.0L177.3,329.8L177.6,327.3L177.9,326.5L178.2,338.2L178.5,327.8L178.8,325.9L179.1,325.7L179.4,326.6L179.7,325.9L180.0,327.7L180.3,326.5L180.6,325.3L180.9,326.0L181.2,327.9L181.5,330.6L181.8,338.3L182.1,328.8L182.4,331.0L182.7,333.6L183.0,333.6L183.3,333.5L183.6,334.6L183.9,329.2L184.2,327.9L184.5,328.0L184.8,327.4L185.1,327.3L185.4,327.9L185.7,326.8L186.0,328.2L186.3,327.1L186.6,327.4L186.9,325.1L187.2,326.7L187.5,328.4L187.8,331.5L188.1,332.4L188.4,334.7L188.7,337.1L189.0,338.3L189.3,336.2L189.6,336.2L189.9,333.3L190.2,332.5L190.5,332.9L190.8,327.4L191.1,328.3L191.4,328.6L191.7,326.5L192.0,324.8L192.3,325.4L192.6,332.9L192.9,325.6L193.2,327.0L193.5,328.3L193.8,327.1L194.1,329.6L194.4,326.7L194.7,325.4L195.0,335.5L195.3,328.1L195.6,325.2L195.9,327.5L196.2,329.0L196.5,327.2L196.8,329.4L197.1,325.6L197.4,328.9L197.7,327.5L198.0,329.3L198.3,331.9L198.6,337.0L198.9,337.2L199.2,338.3L199.5,338.3L199.8,330.8L200.1,331.8L200.4,328.2L200.7,326.0L201.0,328.3L201.3,328.3L201.6,326.0L201.9,327.1L202.2,327.6L202.5,325.7L202.8,336.9L203.1,327.2L203.4,328.9L203.7,332.7L204.0,327.9L204.3,327.6L204.6,327.2L204.9,326.8L205.2,326.3L205.5,328.8L205.8,328.7L206.1,326.9L206.4,331.9L206.7,331.5L207.0,332.7L207.3,335.1L207.6,331.9L207.9,327.5L208.2,328.3L208.5,326.5L208.8,328.7L209.1,329.6L209.4,327.7L209.7,337.8L210.0,326.5L210.3,327.5L210.6,329.3L210.9,324.9L211.2,327.2L211.5,329.0L211.8,330.9L212.1,333.0L212.4,336.6L212.7,338.3L213.0,338.3L213.3,335.7L213.6,336.9L213.9,338.3L214.2,332.4L214.5,329.6L214.8,329.5L215.1,325.5L215.4,328.2L215.7,327.5L216.0,326.9L216.3,337.7L216.6,326.9L216.9,326.8L217.2,326.4L217.5,326.0L217.8,329.0L218.1,333.5L218.4,335.5L218.7,333.7L219.0,335.2L219.3,336.5L219.6,331.7L219.9,330.7L220.2,327.8L220.5,330.5L220.8,326.8L221.1,326.8L221.4,327.1L221.7,325.9L222.0,338.3L222.3,328.5L222.6,329.8L222.9,324.4L223.2,328.0L223.5,326.8L223.8,325.6L224.1,326.7L224.4,328.8L224.7,328.2L225.0,325.9L225.3,331.4L225.6,328.2L225.9,325.5L226.2,325.4L226.5,325.7L226.8,326.5L227.1,325.9L227.4,325.7L227.7,328.0L228.0,325.7L228.3,326.8L228.6,325.8L228.9,326.3L229.2,328.3L229.5,326.7L229.8,327.8L230.1,326.6L230.4,328.3L230.7,326.7L231.0,328.3L231.3,324.9L231.6,328.3L231.9,327.3L232.2,325.4L232.5,325.7L232.8,323.9L233.1,326.3L233.4,326.9L233.7,325.9L234.0,328.1L234.3,323.6L234.6,326.3L234.9,324.9L235.2,325.9L235.5,327.8L235.8,326.6L236.1,328.7L236.4,326.1L236.7,325.7L237.0,326.2L237.3,324.5L237.6,325.3L237.9,326.5L238.2,327.9L238.5,325.1L238.8,325.2L239.1,324.3L239.4,324.5L239.7,326.4L240.0,326.5L240.3,326.9L240.6,326.1L240.9,327.9L241.2,324.0L241.5,326.4L241.8,327.3L242.1,326.0L242.4,327.0L242.7,326.1L243.0,325.9L243.3,326.7L243.6,325.5L243.9,326.4L244.2,327.3L244.5,324.9L244.8,327.4L245.1,328.1L245.4,328.8L245.7,326.0L246.0,328.1L246.3,323.9L246.6,324.5L246.9,326.5L247.2,324.9L247.5,325.1L247.8,325.0L248.1,326.0L248.4,325.5L248.7,325.1L249.0,326.4L249.3,325.7L249.6,326.4L249.9,326.8L250.2,327.2L250.5,326.1L250.8,325.9L251.1,325.9L251.4,325.2L251.7,327.9L252.0,328.2L252.3,331.4L252.6,332.7L252.9,334.0L253.2,337.8L253.5,337.0L253.8,336.6L254.1,335.3L254.4,332.6L254.7,328.9L255.0,329.3L255.3,327.8L255.6,326.8L255.9,326.4L256.2,327.2L256.5,325.2L256.8,329.8L257.1,325.6L257.4,328.8L257.7,329.7L258.0,331.9L258.3,331.1L258.6,330.6L258.9,327.3L259.2,329.6L259.5,328.5L259.8,324.0L260.1,327.0L260.4,324.3L260.7,326.7L261.0,328.9L261.3,329.1L261.6,328.1L261.9,329.4L262.2,331.7L262.5,329.9L262.8,329.7L263.1,325.6L263.4,327.9L263.7,327.0L264.0,325.2L264.3,328.3L264.6,326.3L264.9,327.5L265.2,325.6L265.5,326.9L265.8,327.1L266.1,326.2L266.4,326.5L266.7,326.8L267.0,326.2L267.3,324.7L267.6,326.9L267.9,326.4L268.2,327.1L268.5,326.1L268.8,330.1L269.1,330.3L269.4,332.0L269.7,333.6L270.0,332.7L270.3,330.6L270.6,328.4L270.9,330.6L271.2,328.4L271.5,328.4L271.8,328.6L272.1,326.3L272.4,325.2L272.7,327.0L273.0,325.8L273.3,325.3L273.6,327.0L273.9,326.3L274.2,327.8L274.5,326.5L274.8,329.2L275.1,330.8L275.4,333.2L275.7,334.0L276.0,336.3L276.3,332.8L276.6,333.8L276.9,332.6L277.2,329.3L277.5,328.0L277.8,326.1L278.1,327.0L278.4,327.1L278.7,326.7L279.0,326.9L279.3,327.1L279.6,326.7L279.9,324.1L280.2,325.2L280.5,326.9L280.8,330.6L281.1,330.0L281.4,329.4L281.7,329.9L282.0,329.8L282.3,330.9L282.6,329.0L282.9,328.6L283.2,326.5L283.5,326.5L283.8,325.4L284.1,325.5L284.4,326.0L284.7,328.0L285.0,326.9L285.3,327.8L285.6,325.8L285.9,326.8L286.2,325.6L286.5,326.1L286.8,326.2L287.1,324.2L287.4,326.5L287.7,324.8L288.0,327.0L288.3,325.5L288.6,324.3L288.9,324.8L289.2,325.2L289.5,328.3L289.8,324.7L290.1,325.9L290.4,326.6L290.7,326.1L291.0,326.3L291.3,327.3L291.6,325.4L291.9,328.7L292.2,328.2L292.5,326.6L292.8,328.2L293.1,326.5L293.4,325.8L293.7,324.8L294.0,325.5L294.3,327.1L294.6,326.8L294.9,328.5L295.2,328.4L295.5,327.6L295.8,326.5L296.1,328.7L296.4,326.3L296.7,323.2L297.0,326.0L297.3,327.0L297.6,327.1L297.9,327.1L298.2,327.4L298.5,322.9L298.8,329.4L299.1,327.1L299.4,326.5L299.7,323.8L300.0,327.2L300.3,325.4L300.6,324.5L300.9,326.9L301.2,326.9L301.5,326.2L301.8,325.5L302.1,326.8L302.4,326.4L302.7,326.7L303.0,326.8L303.3,325.0L303.6,326.9L303.9,325.5L304.2,327.6L304.5,327.7L304.8,329.1L305.1,333.2L305.4,334.1L305.7,335.8L306.0,337.1L306.3,337.7L306.6,331.2L306.9,332.1L307.2,329.6L307.5,329.2L307.8,327.2L308.1,326.6L308.4,327.0L308.7,326.4L309.0,325.5L309.3,326.4L309.6,328.2L309.9,326.9L310.2,324.2L310.5,326.2L310.8,325.4L311.1,327.3L311.4,325.3L311.7,326.3L312.0,326.9L312.3,327.2L312.6,325.8L312.9,326.6L313.2,328.6L313.5,325.7L313.8,326.4L314.1,325.5L314.4,326.2L314.7,326.9L315.0,326.5L315.3,327.1L315.6,325.4L315.9,327.1L316.2,327.2L316.5,325.4L316.8,330.2L317.1,330.0L317.4,329.8L317.7,331.3L318.0,330.2L318.3,326.5L318.6,328.4L318.9,329.6L319.2,327.1L319.5,327.4L319.8,324.8L320.1,324.9L320.4,325.0L320.7,327.5L321.0,327.3L321.3,323.9L321.6,327.3L321.9,324.3L322.2,325.0L322.5,326.3L322.8,325.7L323.1,326.3L323.4,326.6L323.7,327.5L324.0,325.9L324.3,325.7L324.6,325.7L324.9,328.8L325.2,327.6L325.5,327.6L325.8,327.0L326.1,326.7L326.4,327.8L326.7,326.4L327.0,324.9L327.3,324.8L327.6,328.9L327.9,325.4L328.2,325.7L328.5,326.3L328.8,327.5L329.1,325.3L329.4,326.2L329.7,326.8L330.0,325.1L330.3,326.5L330.6,327.5L330.9,326.6L331.2,326.5L331.5,326.9L331.8,326.3L332.1,326.0L332.4,325.9L332.7,327.2L333.0,324.8L333.3,325.2L333.6,327.2L333.9,327.6L334.2,326.5L334.5,325.5L334.8,324.8L335.1,327.0L335.4,326.6L335.7,326.7L336.0,326.8L336.3,325.3L336.6,325.6L336.9,326.2L337.2,326.1L337.5,324.7L337.8,325.1L338.1,326.1L338.4,327.7L338.7,328.7L339.0,326.6L339.3,326.0L339.6,326.6L339.9,326.4L340.2,325.5L340.5,323.1L340.8,326.5L341.1,325.7L341.4,326.4L341.7,325.6L342.0,326.7L342.3,327.8L342.6,327.1L342.9,328.6L343.2,330.7L343.5,331.1L343.8,328.3L344.1,330.2L344.4,329.8L344.7,328.1L345.0,327.5L345.3,326.8L345.6,326.9L345.9,325.9L346.2,327.7L346.5,326.4L346.8,324.9L347.1,326.9L347.4,327.3L347.7,326.8L348.0,325.4L348.3,327.0L348.6,323.5L348.9,328.1L349.2,326.9L349.5,324.6L349.8,324.3L350.1,328.7L350.4,326.6L350.7,325.6L351.0,326.7L351.3,326.2L351.6,326.5L351.9,327.3L352.2,328.0L352.5,327.6L352.8,330.1L353.1,331.0L353.4,330.3L353.7,332.2L354.0,331.0L354.3,328.4L354.6,330.1L354.9,328.0L355.2,328.3L355.5,325.8L355.8,326.0L356.1,326.5L356.4,325.8L356.7,326.2L357.0,324.9L357.3,328.4L357.6,326.9L357.9,327.7L358.2,328.1L358.5,326.3L358.8,328.4L359.1,324.0L359.4,326.0L359.7,325.8L360.0,326.4L360.3,325.9L360.6,326.8L360.9,327.3L361.2,326.5L361.5,326.7L361.8,325.4L362.1,326.0L362.4,326.6L362.7,326.1L363.0,326.5L363.3,326.2L363.6,326.5L363.9,325.8L364.2,326.6L364.5,327.0L364.8,326.7L365.1,327.3L365.4,326.3L365.7,326.8L366.0,325.8L366.3,326.8L366.6,326.6L366.9,326.3L367.2,326.9L367.5,325.9L367.8,326.4L368.1,326.7L368.4,326.4L368.7,326.8L369.0,328.2L369.3,328.3L369.6,328.6L369.9,329.2L370.2,329.0L370.5,328.5L370.8,328.4L371.1,327.1L371.4,326.4L371.7,326.7L372.0,326.5L372.3,327.0L372.6,325.8L372.9,326.1L373.2,326.9L373.5,326.6L373.8,326.2L374.1,326.2L374.4,327.1L374.7,327.2L375.0,327.4L375.3,328.2L375.6,328.8L375.9,329.8L376.2,328.1L376.5,328.6L376.8,328.7L377.1,326.8L377.4,326.9L377.7,327.1L378.0,325.9L378.3,326.2L378.6,326.0L378.9,326.4L379.2,326.1L379.5,325.9L379.8,326.4L380.1,326.5L380.4,326.9L380.7,326.2L381.0,326.3L381.3,326.1L381.6,326.9L381.9,326.9L382.2,326.0L382.5,325.4L382.8,327.2L383.1,325.5L383.4,325.6L383.7,326.1L384.0,327.2L384.3,326.9L384.6,326.2L384.9,326.7L385.2,326.3L385.5,326.9L385.8,326.2L386.1,327.1L386.4,326.6L386.7,326.1L387.0,325.6L387.3,326.9L387.6,326.6L387.9,325.9L388.2,326.0L388.5,326.1L388.8,326.2L389.1,326.3L389.4,326.3L389.7,326.4L390.0,326.1L390.3,327.3L390.6,326.2L390.9,326.1L391.2,326.6L391.5,326.0L391.8,326.5L392.1,326.4L392.4,326.8L392.7,325.9L393.0,325.5L393.3,326.9L393.6,326.3L393.9,327.1L394.2,326.7L394.5,326.2L394.8,326.5L395.1,325.8L395.4,325.9L395.7,326.4L396.0,326.4L396.3,325.6L396.6,326.7L396.9,326.6L397.2,326.8L397.5,325.7L397.8,326.6L398.1,326.1L398.4,326.2L398.7,326.8L399.0,326.4L399.3,326.6L399.6,326.8L399.9,326.9L400.2,326.0L400.5,326.0L400.8,326.5L401.1,326.6L401.4,326.1L401.7,326.6L402.0,326.0L402.3,326.3L402.6,326.3L402.9,326.5L403.2,326.7L403.5,326.3L403.8,326.5L404.1,326.1L404.4,326.7L404.7,326.7L405.0,326.2L405.3,327.3L405.6,326.4L405.9,326.3L406.2,326.3L406.5,326.6L406.8,326.5L407.1,326.2L407.4,326.7L407.7,326.9L408.0,327.1L408.3,326.7L408.6,326.4L408.9,326.2L409.2,326.7L409.5,327.1L409.8,327.5L410.1,326.4L410.4,326.0L410.7,326.1L411.0,326.7L411.3,326.8L411.6,326.2L411.9,326.0L412.2,325.7L412.5,326.8L412.8,325.8L413.1,326.7L413.4,326.4L413.7,325.6L414.0,326.0L414.3,326.9L414.6,326.5L414.9,326.3L415.2,327.0L415.5,326.4L415.8,326.5L416.1,326.5L416.4,326.5L416.7,326.9L417.0,326.2L417.3,326.9L417.6,327.1L417.9,326.2L418.2,326.6L418.5,325.9L418.8,326.5L419.1,327.0L419.4,326.9L419.7,326.3L420.0,326.7L420.3,326.7L420.6,326.5L420.9,326.5L421.2,327.3L421.5,325.3L421.8,326.2L422.1,326.8L422.4,326.4L422.7,326.6L423.0,326.6L423.3,326.3L423.6,326.4L423.9,326.1L424.2,326.4L424.5,326.8L424.8,326.9L425.1,326.7L425.4,326.3L425.7,326.3L426.0,325.7L426.3,326.4L426.6,326.0L426.9,326.1L427.2,326.3L427.5,326.5L427.8,326.5L428.1,326.4L428.4,325.9L428.7,326.2L429.0,326.7L429.3,326.4L429.6,326.6L429.9,326.5L430.2,327.1L430.5,327.2L430.8,327.6L431.1,326.3L431.4,326.8L431.7,325.9L432.0,326.8L432.3,326.6L432.6,326.3L432.9,327.1L433.2,326.5L433.5,325.8L433.8,327.1L434.1,326.5L434.4,326.8L434.7,326.2L435.0,326.1L435.3,325.9L435.6,326.0L435.9,326.8L436.2,326.7L436.5,325.7L436.8,326.4L437.1,326.5L437.4,326.1L437.7,326.6L438.0,326.1L438.3,326.9L438.6,326.3L438.9,326.5L439.2,324.9L439.5,326.2L439.8,326.4L440.1,326.1L440.4,326.3L440.7,326.0L441.0,326.8L441.3,325.9L441.6,326.2L441.9,327.0L442.2,326.9L442.5,326.4L442.8,325.8L443.1,325.5L443.4,326.5L443.7,326.5L444.0,326.2L444.3,326.2L444.6,327.3L444.9,326.8L445.2,326.4L445.5,326.3L445.8,326.2L446.1,326.5L446.4,326.3L446.7,326.4L447.0,326.2L447.3,326.7L447.6,326.5L447.9,325.9L448.2,327.6L448.5,326.5L448.8,326.2L449.1,325.8L449.4,326.4L449.7,326.1L450.0,327.1L450.3,326.6L450.6,326.1L450.9,325.6L451.2,326.7L451.5,325.7L451.8,326.6L452.1,326.4L452.4,325.2L452.7,326.3L453.0,327.1L453.3,326.0L453.6,325.4L453.9,325.6L454.2,326.3L454.5,326.5L454.8,326.7L455.1,326.5L455.4,326.0L455.7,326.2L456.0,326.3L456.3,326.3L456.6,325.8L456.9,326.7L457.2,326.9L457.5,326.3L457.8,326.4L458.1,325.8L458.4,326.5L458.7,326.0L459.0,326.0L459.3,326.7L459.6,326.4L459.9,326.2L460.2,325.7L460.5,326.4L460.8,327.1L461.1,326.5L461.4,326.5L461.7,326.9L462.0,327.3L462.3,326.7L462.6,326.9L462.9,326.5L463.2,326.6L463.5,326.6L463.8,326.9L464.1,326.2L464.4,326.6L464.7,326.6L465.0,326.4L465.3,326.2L465.6,326.8L465.9,326.3L466.2,325.7L466.5,326.7L466.8,325.8L467.1,326.8L467.4,325.3L467.7,326.4L468.0,327.2L468.3,326.3L468.6,326.9L468.9,326.3L469.2,326.1L469.5,326.3L469.8,326.9L470.1,327.0L470.4,327.1L470.7,326.8L471.0,326.4L471.3,325.5L471.6,326.1L471.9,327.1L472.2,325.7L472.5,326.6L472.8,326.6L473.1,325.7L473.4,326.6L473.7,326.2L474.0,326.5L474.3,326.4L474.6,326.3L474.9,326.0L475.2,325.5L475.5,327.2L475.8,326.0L476.1,326.3L476.4,326.2L476.7,326.3L477.0,326.1L477.3,326.7L477.6,326.4L477.9,326.2L478.2,326.1L478.5,326.6L478.8,326.0L479.1,326.7L479.4,327.0L479.7,326.9L480.0,326.7L480.3,325.7L480.6,326.8L480.9,326.6L481.2,327.0L481.5,326.2L481.8,326.2L482.1,327.1L482.4,326.1L482.7,327.0L483.0,326.6L483.3,325.3L483.6,326.2L483.9,326.2L484.2,325.8L484.5,325.6L484.8,326.5L485.1,326.0L485.4,326.1L485.7,326.0L486.0,326.3L486.3,326.7L486.6,326.8L486.9,326.7L487.2,326.3L487.5,326.4L487.8,326.7L488.1,327.0L488.4,326.4L488.7,325.9L489.0,326.6L489.3,326.7L489.6,326.2L489.9,327.0L490.2,326.2L490.5,326.4L490.8,326.6L491.1,327.1L491.4,325.9L491.7,326.7L492.0,326.8L492.3,326.4L492.6,326.9L492.9,326.1L493.2,325.9L493.5,325.9L493.8,326.1L494.1,325.9L494.4,326.7L494.7,326.4L495.0,325.8L495.3,327.1L495.6,326.5L495.9,325.7L496.2,325.6L496.5,326.5L496.8,327.0L497.1,326.3L497.4,326.9L497.7,327.2L498.0,326.8L498.3,326.3L498.6,325.8L498.9,326.1L499.2,327.0L499.5,326.4L499.8,326.0L500.1,326.2L500.4,326.3L500.7,326.9L501.0,326.2L501.3,327.4L501.6,326.8L501.9,327.3L502.2,327.3L502.5,328.9L502.8,330.0L503.1,331.2L503.4,331.1L503.7,331.4L504.0,329.8L504.3,329.0L504.6,329.4L504.9,327.3L505.2,326.6L505.5,327.0L505.8,326.4L506.1,327.6L506.4,326.5L506.7,326.7L507.0,326.3L507.3,326.9L507.6,326.4L507.9,327.7L508.2,326.1L508.5,326.6L508.8,326.7L509.1,325.9L509.4,326.2L509.7,326.1L510.0,325.6L510.3,326.6L510.6,325.1L510.9,325.8L511.2,325.9L511.5,326.5L511.8,326.3L512.1,326.9L512.4,327.0L512.7,326.5L513.0,326.0L513.3,326.7L513.6,326.1L513.9,326.3L514.2,326.4L514.5,327.1L514.8,327.6L515.1,327.0L515.4,326.2L515.7,326.8L516.0,327.0L516.3,326.0L516.6,326.5L516.9,326.1L517.2,326.1L517.5,326.5L517.8,326.5L518.1,326.1L518.4,326.4L518.7,325.9L519.0,326.4L519.3,326.8L519.6,326.9L519.9,327.3L520.2,329.3L520.5,332.1L520.8,335.1L521.1,337.5L521.4,338.3L521.7,338.3L522.0,337.0L522.3,335.8L522.6,333.4L522.9,333.6L523.2,332.8L523.5,331.5L523.8,331.6L524.1,330.7L524.4,328.7L524.7,328.2L525.0,327.7L525.3,327.7L525.6,326.3L525.9,327.2L526.2,326.0L526.5,326.0L526.8,327.0L527.1,326.8L527.4,326.1L527.7,327.1L528.0,326.7L528.3,326.5L528.6,326.3L528.9,325.3L529.2,326.4L529.5,326.9L529.8,326.4L530.1,326.7L530.4,326.4L530.7,327.0L531.0,325.1L531.3,326.6L531.6,326.0L531.9,326.5L532.2,326.7L532.5,326.9L532.8,326.8L533.1,327.0L533.4,326.0L533.7,326.5L534.0,325.4L534.3,326.6L534.6,325.7L534.9,326.9L535.2,326.5L535.5,326.3L535.8,326.1L536.1,326.5L536.4,326.1L536.7,325.8L537.0,326.6L537.3,326.0L537.6,326.6L537.9,326.0L538.2,325.9L538.5,327.4L538.8,326.7L539.1,327.0L539.4,326.3L539.7,326.4L540.0,326.4L540.3,327.3L540.6,326.7L540.9,326.4L541.2,326.4L541.5,326.4L541.8,326.9L542.1,326.4L542.4,326.4L542.7,327.0L543.0,326.9L543.3,326.8L543.6,327.3L543.9,326.4L544.2,325.9L544.5,325.7L544.8,326.4L545.1,326.5L545.4,326.9L545.7,325.8L546.0,325.8L546.3,326.3L546.6,326.3L546.9,325.8L547.2,326.3L547.5,326.7L547.8,326.3L548.1,327.5L548.4,326.7L548.7,326.0L549.0,326.3L549.3,325.7L549.6,327.4L549.9,326.3L550.2,326.2L550.5,326.7L550.8,326.2L551.1,326.1L551.4,326.4L551.7,326.8L552.0,326.8L552.3,325.8L552.6,325.6L552.9,326.6L553.2,326.2L553.5,326.2L553.8,326.9L554.1,326.6L554.4,326.1L554.7,326.7L555.0,326.0L555.3,326.1L555.6,327.2L555.9,326.3L556.2,326.6L556.5,326.3L556.8,326.2L557.1,325.9L557.4,325.9L557.7,327.0L558.0,327.4L558.3,326.7L558.6,326.7L558.9,326.1L559.2,326.4L559.5,327.1L559.8,327.6L560.1,326.7L560.4,326.6L560.7,326.9L561.0,326.5L561.3,326.1L561.6,326.0L561.9,326.3L562.2,326.2L562.5,325.3L562.8,325.6L563.1,326.8L563.4,326.8L563.7,326.8L564.0,326.3L564.3,326.1L564.6,326.4L564.9,326.5L565.2,326.2L565.5,326.9L565.8,326.1L566.1,325.3L566.4,326.7L566.7,326.8L567.0,326.3L567.3,326.9L567.6,326.9L567.9,325.2L568.2,326.6L568.5,325.9L568.8,326.7L569.1,326.5L569.4,326.8L569.7,326.3L570.0,326.1L570.3,326.5L570.6,327.5L570.9,326.6L571.2,325.9L571.5,326.4L571.8,326.3L572.1,327.0L572.4,326.5L572.7,326.3L573.0,326.5L573.3,326.1L573.6,326.6L573.9,325.9L574.2,326.2L574.5,326.5L574.8,325.8L575.1,325.8L575.4,326.1L575.7,327.1L576.0,326.8L576.3,326.4L576.6,326.9L576.9,326.8L577.2,326.1L577.5,325.9L577.8,327.0L578.1,326.1L578.4,326.7L578.7,325.7L579.0,326.4L579.3,325.9L579.6,326.7L579.9,326.8L580.2,326.6L580.5,326.8L580.8,326.2L581.1,326.6L581.4,326.7L581.7,326.0L582.0,326.7L582.3,326.6L582.6,326.6L582.9,326.3L583.2,326.4L583.5,326.6L583.8,326.5L584.1,326.7L584.4,325.8L584.7,326.9L585.0,326.1L585.3,326.9L585.6,325.8L585.9,326.1L586.2,326.5L586.5,326.6L586.8,326.2L587.1,326.0L587.4,326.7L587.7,326.9L588.0,326.0L588.3,325.9L588.6,326.2L588.9,326.5L589.2,325.9L589.5,326.6L589.8,328.0L590.1,328.2L590.4,329.1L590.7,330.8L591.0,330.9L591.3,330.9L591.6,329.4L591.9,328.5L592.2,327.5L592.5,326.4L592.8,325.8L593.1,326.5L593.4,326.1L593.7,326.7L594.0,326.9L594.3,325.7L594.6,325.8L594.9,326.5L595.2,327.1L595.5,327.1L595.8,326.1L596.1,326.5L596.4,327.1L596.7,326.1L597.0,326.0L597.3,327.0L597.6,326.1L597.9,325.9L598.2,327.2L598.5,326.2L598.8,326.3L599.1,326.7L599.4,327.1L599.7,326.8L600.0,326.6L600.3,326.6L600.6,326.6L600.9,326.6L601.2,325.7L601.5,326.6L601.8,325.8L602.1,326.1L602.4,326.5L602.7,326.4L603.0,326.6L603.3,326.4L603.6,326.7L603.9,327.3L604.2,325.9L604.5,326.9L604.8,327.3L605.1,326.3L605.4,326.3L605.7,326.4L606.0,326.7L606.3,326.1L606.6,326.3L606.9,326.4L607.2,326.5L607.5,327.1L607.8,326.2L608.1,326.8L608.4,326.8L608.7,326.5L609.0,326.5L609.3,326.1L609.6,326.1L609.9,326.6L610.2,326.6L610.5,326.3L610.8,327.0L611.1,326.5L611.4,326.5L611.7,326.4L612.0,326.9L612.3,326.7L612.6,326.6L612.9,325.9L613.2,327.2L613.5,325.8L613.8,326.6L614.1,325.9L614.4,325.7L614.7,325.0L615.0,326.5L615.3,326.6L615.6,326.3L615.9,326.2L616.2,325.8L616.5,326.4L616.8,326.3L617.1,325.7L617.4,326.2L617.7,326.2L618.0,325.9L618.3,326.9L618.6,325.8L618.9,327.3L619.2,326.9L619.5,326.2L619.8,327.1L620.1,326.9L620.4,327.0L620.7,326.5L621.0,326.0L621.3,325.4L621.6,326.5L621.9,326.3L622.2,326.1L622.5,327.3L622.8,326.6L623.1,325.7L623.4,326.3L623.7,326.6L624.0,325.8L624.3,326.5L624.6,326.2L624.9,325.7L625.2,326.6L625.5,326.7L625.8,325.2L626.1,326.6L626.4,326.1L626.7,326.3L627.0,325.6L627.3,326.0L627.6,327.2L627.9,326.7L628.2,326.3L628.5,326.4L628.8,326.0L629.1,326.4L629.4,326.0L629.7,326.5L630.0,325.9L630.3,326.5L630.6,326.8L630.9,326.3L631.2,326.5L631.5,326.5L631.8,326.2L632.1,325.8L632.4,326.9L632.7,326.4L633.0,326.3L633.3,327.0L633.6,326.0L633.9,326.2L634.2,326.1L634.5,325.9L634.8,326.3L635.1,326.1L635.4,327.0L635.7,326.1L636.0,326.9L636.3,325.9L636.6,326.1L636.9,326.0L637.2,325.1L637.5,325.1L637.8,323.8L638.1,323.0L638.4,323.2L638.7,322.7L639.0,323.8L639.3,324.8L639.6,325.4L639.9,326.3L640.2,325.9L640.5,326.8L640.8,326.1L641.1,325.7L641.4,326.3L641.7,327.3L642.0,326.0L642.3,327.2L642.6,325.8L642.9,326.8L643.2,326.6L643.5,326.2L643.8,325.4L644.1,326.7L644.4,326.7L644.7,326.6L645.0,326.8L645.3,326.0L645.6,327.3L645.9,326.8L646.2,326.1L646.5,327.4L646.8,326.4L647.1,326.6L647.4,326.8L647.7,326.0L648.0,326.0L648.3,326.3L648.6,325.9L648.9,326.3L649.2,327.0L649.5,325.9L649.8,326.4L650.1,326.2L650.4,326.8L650.7,325.9L651.0,325.9L651.3,326.3L651.6,327.3L651.9,326.0L652.2,325.6L652.5,325.9L652.8,326.7L653.1,326.8L653.4,326.4L653.7,326.5L654.0,325.8L654.3,326.6L654.6,326.3L654.9,326.1L655.2,326.9L655.5,327.0L655.8,326.5L656.1,327.1L656.4,326.7L656.7,327.7L657.0,329.4L657.3,328.8L657.6,328.9L657.9,329.5L658.2,327.4L658.5,327.4L658.8,327.5L659.1,326.6L659.4,326.2L659.7,326.0L660.0,326.6L660.3,326.3L660.6,327.3L660.9,327.7L661.2,328.5L661.5,329.8L661.8,329.6L662.1,329.4L662.4,329.5L662.7,328.9L663.0,327.9L663.3,326.5L663.6,327.2L663.9,325.8L664.2,325.6L664.5,326.8L664.8,327.1L665.1,326.3L665.4,326.0L665.7,327.0L666.0,325.8L666.3,326.4L666.6,326.1L666.9,326.7L667.2,326.5L667.5,326.0L667.8,326.9L668.1,326.7L668.4,326.4L668.7,326.3L669.0,326.4L669.3,325.8L669.6,326.3L669.9,326.3L670.2,326.6L670.5,326.3L670.8,326.2L671.1,326.5L671.4,326.8L671.7,326.7L672.0,326.3L672.3,326.2L672.6,327.0L672.9,326.4L673.2,325.9L673.5,326.5L673.8,325.6L674.1,326.2L674.4,326.7L674.7,326.3L675.0,326.3L675.3,326.7L675.6,326.9L675.9,326.0L676.2,325.9L676.5,326.1L676.8,325.9L677.1,326.6L677.4,326.7L677.7,326.4L678.0,325.9L678.3,325.7L678.6,326.3L678.9,326.0" fill="none" stroke="#0cfb6c" stroke-width="3.4" stroke-linejoin="round"/>
</g>
<rect x="681" y="326" width="459" height="1" fill="#1888f8"/>
<g fill="#1888f8">
<rect x="1140" y="59" width="1" height="281"/>
<rect x="1130" y="336" width="10" height="1"/>
<rect x="1130" y="329" width="10" height="1"/>
<rect x="1130" y="323" width="10" height="1"/>
<rect x="1130" y="316" width="10" height="1"/>
<rect x="1130" y="309" width="10" height="1"/>
<rect x="1130" y="302" width="10" height="1"/>
<rect x="1130" y="295" width="10" height="1"/>
<rect x="1119" y="288" width="21" height="1"/>
<rect x="1130" y="281" width="10" height="1"/>
<rect x="1130" y="274" width="10" height="1"/>
<rect x="1130" y="268" width="10" height="1"/>
<rect x="1130" y="261" width="10" height="1"/>
<rect x="1130" y="254" width="10" height="1"/>
<rect x="1130" y="247" width="10" height="1"/>
<rect x="1130" y="240" width="10" height="1"/>
<rect x="1130" y="233" width="10" height="1"/>
<rect x="1130" y="226" width="10" height="1"/>
<rect x="1119" y="220" width="21" height="1"/>
<rect x="1130" y="213" width="10" height="1"/>
<rect x="1130" y="206" width="10" height="1"/>
<rect x="1130" y="199" width="10" height="1"/>
<rect x="1130" y="192" width="10" height="1"/>
<rect x="1130" y="185" width="10" height="1"/>
<rect x="1130" y="178" width="10" height="1"/>
<rect x="1130" y="172" width="10" height="1"/>
<rect x="1130" y="165" width="10" height="1"/>
<rect x="1130" y="158" width="10" height="1"/>
<rect x="1119" y="151" width="21" height="1"/>
<rect x="1130" y="144" width="10" height="1"/>
<rect x="1130" y="137" width="10" height="1"/>
<rect x="1130" y="130" width="10" height="1"/>
<rect x="1130" y="124" width="10" height="1"/>
<rect x="1130" y="117" width="10" height="1"/>
<rect x="1130" y="110" width="10" height="1"/>
<rect x="1130" y="103" width="10" height="1"/>
<rect x="1130" y="96" width="10" height="1"/>
<rect x="1130" y="89" width="10" height="1"/>
<rect x="1119" y="82" width="21" height="1"/>
<rect x="1130" y="76" width="10" height="1"/>
<rect x="1130" y="69" width="10" height="1"/>
<rect x="1130" y="62" width="10" height="1"/>
</g>
</g>
<g font-family="Liberation Sans, sans-serif" stroke="#fff" stroke-width="0.18" paint-order="fill stroke">
<text x="204.6" y="50.8" font-size="17.4" text-anchor="start" fill="#000" textLength="94.4" lengthAdjust="spacingAndGlyphs" >HD187459</text>
<text x="329.6" y="50.8" font-size="17.4" text-anchor="start" fill="#000" textLength="114.4" lengthAdjust="spacingAndGlyphs" >(23.184097,</text>
<text x="455.8" y="50.8" font-size="17.4" text-anchor="start" fill="#000" textLength="103.4" lengthAdjust="spacingAndGlyphs" >167.54395,</text>
<text x="570.0" y="50.8" font-size="17.4" text-anchor="start" fill="#000" textLength="105.0" lengthAdjust="spacingAndGlyphs" >24168.936,</text>
<text x="685.8" y="50.8" font-size="17.4" text-anchor="start" fill="#000" textLength="105.0" lengthAdjust="spacingAndGlyphs" >2.5312855,</text>
<text x="801.7" y="50.8" font-size="17.4" text-anchor="start" fill="#000" textLength="116.6" lengthAdjust="spacingAndGlyphs" >0.43707153,</text>
<text x="930.0" y="50.8" font-size="17.4" text-anchor="start" fill="#000" textLength="105.8" lengthAdjust="spacingAndGlyphs" >0.0000000)</text>
<text x="181.2" y="361.7" font-size="14.0" text-anchor="start" fill="#000" textLength="27.6" lengthAdjust="spacingAndGlyphs" >400</text>
<text x="354.1" y="361.7" font-size="14.0" text-anchor="start" fill="#000" textLength="27.6" lengthAdjust="spacingAndGlyphs" >500</text>
<text x="527.0" y="361.7" font-size="14.0" text-anchor="start" fill="#000" textLength="27.6" lengthAdjust="spacingAndGlyphs" >600</text>
<text x="699.9" y="361.7" font-size="14.0" text-anchor="start" fill="#000" textLength="27.6" lengthAdjust="spacingAndGlyphs" >700</text>
<text x="872.8" y="361.7" font-size="14.0" text-anchor="start" fill="#000" textLength="27.6" lengthAdjust="spacingAndGlyphs" >800</text>
<text x="1045.6" y="361.7" font-size="14.0" text-anchor="start" fill="#000" textLength="27.6" lengthAdjust="spacingAndGlyphs" >900</text>
<text x="88.7" y="332.7" font-size="14.0" text-anchor="start" fill="#000" textLength="8.6" lengthAdjust="spacingAndGlyphs" >0</text>
<text x="88.7" y="273.7" font-size="14.0" text-anchor="start" fill="#000" textLength="8.6" lengthAdjust="spacingAndGlyphs" >1</text>
<text x="88.7" y="214.6" font-size="14.0" text-anchor="start" fill="#000" textLength="8.6" lengthAdjust="spacingAndGlyphs" >2</text>
<text x="88.7" y="155.6" font-size="14.0" text-anchor="start" fill="#000" textLength="8.6" lengthAdjust="spacingAndGlyphs" >3</text>
<text x="88.7" y="96.6" font-size="14.0" text-anchor="start" fill="#000" textLength="8.6" lengthAdjust="spacingAndGlyphs" >4</text>
<text x="1145.6" y="294.7" font-size="14.0" text-anchor="start" fill="#1888f8" textLength="22.4" lengthAdjust="spacingAndGlyphs" >1.0</text>
<text x="1145.6" y="226.1" font-size="14.0" text-anchor="start" fill="#1888f8" textLength="22.4" lengthAdjust="spacingAndGlyphs" >1.1</text>
<text x="1145.6" y="157.5" font-size="14.0" text-anchor="start" fill="#1888f8" textLength="22.4" lengthAdjust="spacingAndGlyphs" >1.2</text>
<text x="1145.6" y="88.9" font-size="14.0" text-anchor="start" fill="#1888f8" textLength="22.4" lengthAdjust="spacingAndGlyphs" >1.3</text>
<text x="564.0" y="381.8" font-size="15.0" text-anchor="start" fill="#000" textLength="83.8" lengthAdjust="spacingAndGlyphs" >wavelength,</text>
<text x="655.8" y="381.8" font-size="15.0" text-anchor="start" fill="#000" textLength="23.2" lengthAdjust="spacingAndGlyphs" >nm</text>
<g transform="translate(74.8,236.3) rotate(-90)">
<text x="0.0" y="0.0" font-size="15.0" text-anchor="start" fill="#000" textLength="27.0" lengthAdjust="spacingAndGlyphs" >flux,</text>
<text x="36.5" y="0.0" font-size="15.0" text-anchor="start" fill="#000" textLength="36.0" lengthAdjust="spacingAndGlyphs" >units</text>
</g>
<g transform="translate(1184.4,222) rotate(-90)">
<text x="0.0" y="0.0" font-size="15.0" text-anchor="start" fill="#1888f8" textLength="45.0" lengthAdjust="spacingAndGlyphs" >mcont</text>
</g>
</g>
</svg>
</body></html>
